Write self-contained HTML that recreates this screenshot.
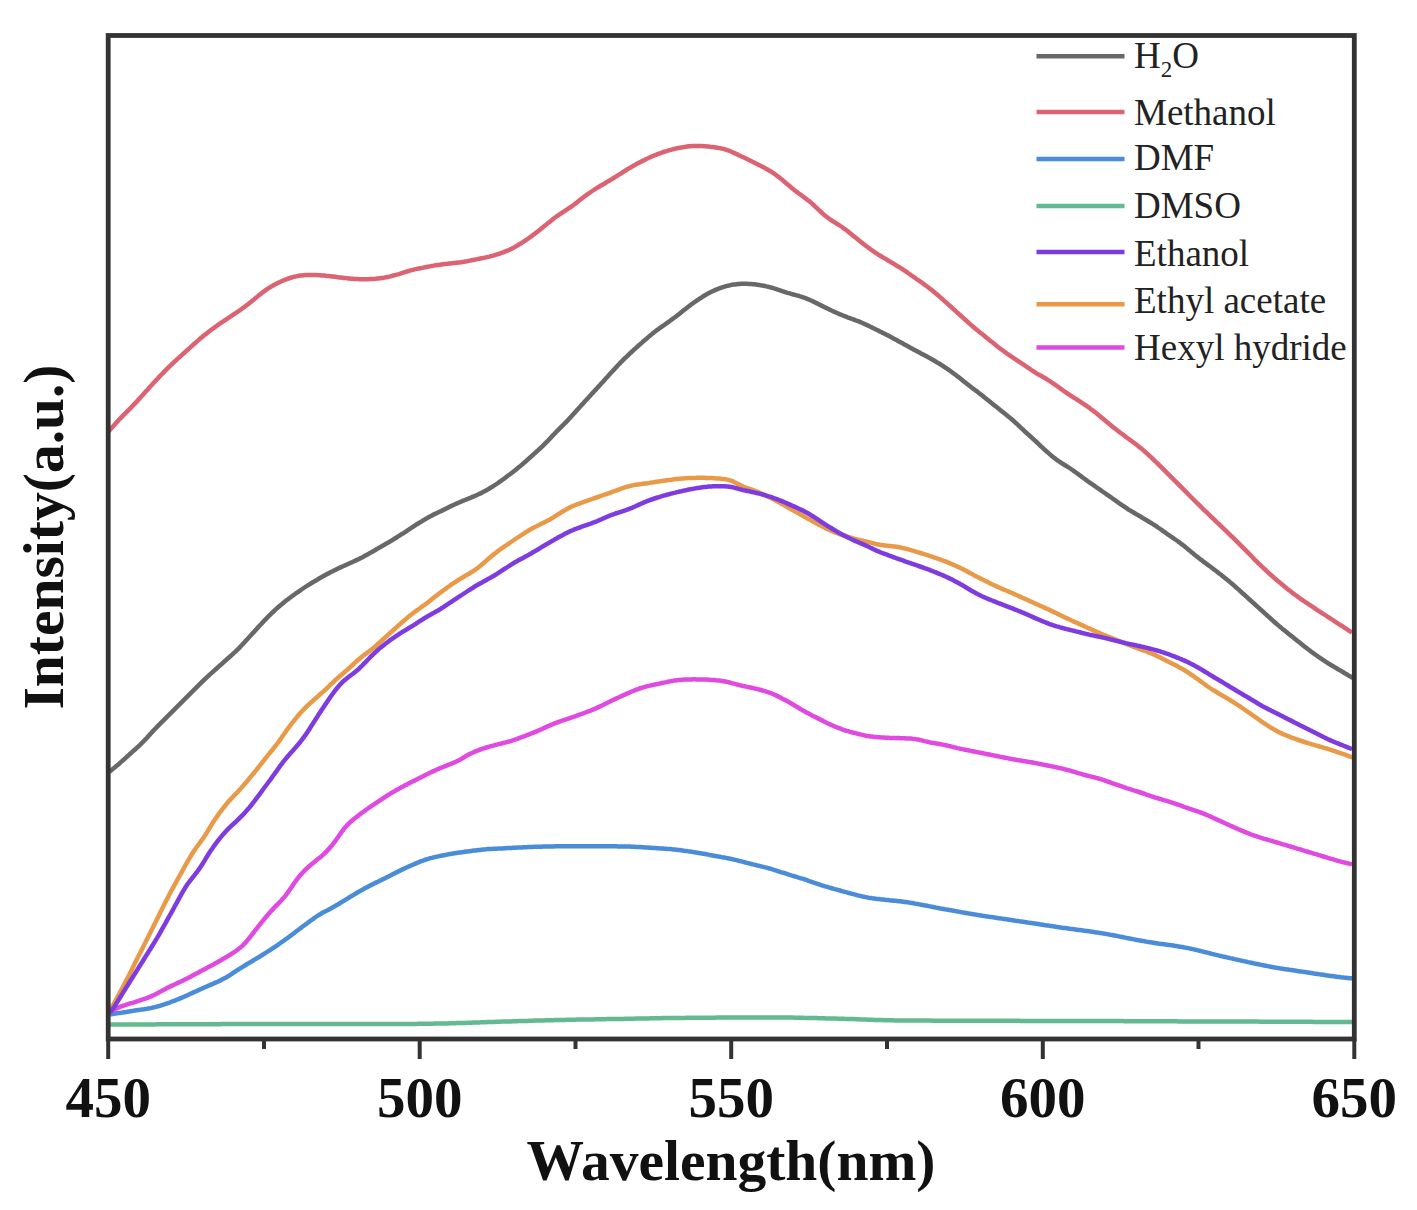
<!DOCTYPE html>
<html><head><meta charset="utf-8"><style>
html,body{margin:0;padding:0;background:#fff;}
body{width:1417px;height:1210px;overflow:hidden;}
svg{display:block;}
</style></head><body>
<svg width="1417" height="1210" viewBox="0 0 1417 1210">
<rect width="1417" height="1210" fill="#fff"/>
<g fill="none" stroke-width="4.5" stroke-linejoin="round" stroke-linecap="butt">
<path d="M109.0,1024.5 110.5,1024.5 112.0,1024.5 113.5,1024.5 115.0,1024.5 116.5,1024.5 118.0,1024.5 119.5,1024.5 121.0,1024.5 122.5,1024.5 124.0,1024.5 125.5,1024.4 127.0,1024.4 128.5,1024.4 130.0,1024.4 131.5,1024.4 133.0,1024.4 134.5,1024.4 136.0,1024.4 137.5,1024.4 139.0,1024.4 140.5,1024.4 142.0,1024.4 143.5,1024.4 145.0,1024.4 146.5,1024.4 148.0,1024.4 149.5,1024.4 151.0,1024.4 152.5,1024.4 154.0,1024.4 155.5,1024.4 157.0,1024.3 158.5,1024.3 160.0,1024.3 161.5,1024.3 163.0,1024.3 164.5,1024.3 166.0,1024.3 167.5,1024.3 169.0,1024.3 170.5,1024.3 172.0,1024.3 173.5,1024.3 175.0,1024.3 176.5,1024.3 178.0,1024.3 179.5,1024.3 181.0,1024.3 182.5,1024.3 184.0,1024.3 185.5,1024.3 187.0,1024.3 188.5,1024.2 190.0,1024.2 191.5,1024.2 193.0,1024.2 194.5,1024.2 196.0,1024.2 197.5,1024.2 199.0,1024.2 200.5,1024.2 202.0,1024.2 203.5,1024.2 205.0,1024.2 206.5,1024.2 208.0,1024.2 209.5,1024.2 211.0,1024.2 212.5,1024.2 214.0,1024.2 215.5,1024.2 217.0,1024.2 218.5,1024.2 220.0,1024.2 221.5,1024.1 223.0,1024.1 224.5,1024.1 226.0,1024.1 227.5,1024.1 229.0,1024.1 230.5,1024.1 232.0,1024.1 233.5,1024.1 235.0,1024.1 236.5,1024.1 238.0,1024.1 239.5,1024.1 241.0,1024.1 242.5,1024.1 244.0,1024.1 245.5,1024.1 247.0,1024.1 248.5,1024.1 250.0,1024.1 251.5,1024.1 253.0,1024.1 254.5,1024.1 256.0,1024.1 257.5,1024.0 259.0,1024.0 260.5,1024.0 262.0,1024.0 263.5,1024.0 265.0,1024.0 266.5,1024.0 268.0,1024.0 269.5,1024.0 271.0,1024.0 272.5,1024.0 274.0,1024.0 275.5,1024.0 277.0,1024.0 278.5,1024.0 280.0,1024.0 281.5,1024.0 283.0,1024.0 284.5,1024.0 286.0,1024.0 287.5,1024.0 289.0,1024.0 290.5,1024.0 292.0,1024.0 293.5,1024.0 295.0,1024.0 296.5,1024.0 298.0,1024.0 299.5,1024.0 301.0,1024.0 302.5,1024.0 304.0,1024.0 305.5,1024.0 307.0,1024.0 308.5,1024.0 310.0,1024.0 311.5,1024.0 313.0,1024.0 314.5,1024.0 316.0,1024.0 317.5,1024.0 319.0,1024.0 320.5,1024.0 322.0,1024.0 323.5,1024.0 325.0,1024.0 326.5,1024.0 328.0,1024.0 329.5,1024.0 331.0,1024.0 332.5,1024.0 334.0,1024.0 335.5,1024.0 337.0,1024.0 338.5,1024.0 340.0,1024.0 341.5,1024.0 343.0,1024.0 344.5,1024.0 346.0,1024.0 347.5,1024.0 349.0,1024.0 350.5,1024.0 352.0,1024.0 353.5,1024.0 355.0,1024.0 356.5,1024.0 358.0,1024.0 359.5,1024.0 361.0,1024.0 362.5,1024.0 364.0,1024.0 365.5,1024.0 367.0,1024.0 368.5,1024.0 370.0,1024.0 371.5,1024.0 373.0,1024.0 374.5,1024.0 376.0,1024.0 377.5,1024.0 379.0,1024.0 380.5,1024.0 382.0,1024.0 383.5,1024.0 385.0,1024.0 386.5,1024.0 388.0,1024.0 389.5,1024.0 391.0,1024.0 392.5,1024.0 394.0,1024.0 395.5,1024.0 397.0,1024.0 398.5,1024.0 400.0,1024.0 401.5,1024.0 403.0,1023.9 404.5,1023.9 406.0,1023.9 407.5,1023.9 409.0,1023.9 410.5,1023.9 412.0,1023.9 413.5,1023.9 415.0,1023.9 416.5,1023.9 418.0,1023.8 419.5,1023.8 421.0,1023.8 422.5,1023.8 424.0,1023.8 425.5,1023.8 427.0,1023.7 428.5,1023.7 430.0,1023.7 431.5,1023.7 433.0,1023.7 434.5,1023.6 436.0,1023.6 437.5,1023.6 439.0,1023.5 440.5,1023.5 442.0,1023.5 443.5,1023.5 445.0,1023.4 446.5,1023.4 448.0,1023.4 449.5,1023.3 451.0,1023.3 452.5,1023.3 454.0,1023.2 455.5,1023.2 457.0,1023.1 458.5,1023.1 460.0,1023.0 461.5,1023.0 463.0,1023.0 464.5,1022.9 466.0,1022.9 467.5,1022.8 469.0,1022.8 470.5,1022.7 472.0,1022.7 473.5,1022.6 475.0,1022.6 476.5,1022.5 478.0,1022.4 479.5,1022.4 481.0,1022.3 482.5,1022.3 484.0,1022.2 485.5,1022.2 487.0,1022.1 488.5,1022.1 490.0,1022.0 491.5,1022.0 493.0,1021.9 494.5,1021.9 496.0,1021.8 497.5,1021.8 499.0,1021.7 500.5,1021.7 502.0,1021.6 503.5,1021.6 505.0,1021.5 506.5,1021.5 508.0,1021.4 509.5,1021.4 511.0,1021.4 512.5,1021.3 514.0,1021.3 515.5,1021.2 517.0,1021.2 518.5,1021.1 520.0,1021.1 521.5,1021.0 523.0,1021.0 524.5,1020.9 526.0,1020.9 527.5,1020.9 529.0,1020.8 530.5,1020.8 532.0,1020.7 533.5,1020.7 535.0,1020.6 536.5,1020.6 538.0,1020.6 539.5,1020.5 541.0,1020.5 542.5,1020.4 544.0,1020.4 545.5,1020.3 547.0,1020.3 548.5,1020.3 550.0,1020.2 551.5,1020.2 553.0,1020.2 554.5,1020.1 556.0,1020.1 557.5,1020.0 559.0,1020.0 560.5,1020.0 562.0,1019.9 563.5,1019.9 565.0,1019.9 566.5,1019.8 568.0,1019.8 569.5,1019.8 571.0,1019.8 572.5,1019.7 574.0,1019.7 575.5,1019.7 577.0,1019.6 578.5,1019.6 580.0,1019.6 581.5,1019.6 583.0,1019.5 584.5,1019.5 586.0,1019.5 587.5,1019.5 589.0,1019.4 590.5,1019.4 592.0,1019.4 593.5,1019.4 595.0,1019.3 596.5,1019.3 598.0,1019.3 599.5,1019.3 601.0,1019.2 602.5,1019.2 604.0,1019.2 605.5,1019.2 607.0,1019.1 608.5,1019.1 610.0,1019.1 611.5,1019.1 613.0,1019.0 614.5,1019.0 616.0,1019.0 617.5,1019.0 619.0,1018.9 620.5,1018.9 622.0,1018.9 623.5,1018.9 625.0,1018.8 626.5,1018.8 628.0,1018.8 629.5,1018.7 631.0,1018.7 632.5,1018.7 634.0,1018.7 635.5,1018.6 637.0,1018.6 638.5,1018.6 640.0,1018.5 641.5,1018.5 643.0,1018.5 644.5,1018.5 646.0,1018.4 647.5,1018.4 649.0,1018.4 650.5,1018.3 652.0,1018.3 653.5,1018.3 655.0,1018.3 656.5,1018.2 658.0,1018.2 659.5,1018.2 661.0,1018.2 662.5,1018.1 664.0,1018.1 665.5,1018.1 667.0,1018.1 668.5,1018.1 670.0,1018.0 671.5,1018.0 673.0,1018.0 674.5,1018.0 676.0,1018.0 677.5,1017.9 679.0,1017.9 680.5,1017.9 682.0,1017.9 683.5,1017.9 685.0,1017.9 686.5,1017.8 688.0,1017.8 689.5,1017.8 691.0,1017.8 692.5,1017.8 694.0,1017.8 695.5,1017.8 697.0,1017.8 698.5,1017.8 700.0,1017.7 701.5,1017.7 703.0,1017.7 704.5,1017.7 706.0,1017.7 707.5,1017.7 709.0,1017.7 710.5,1017.7 712.0,1017.7 713.5,1017.7 715.0,1017.7 716.5,1017.6 718.0,1017.6 719.5,1017.6 721.0,1017.6 722.5,1017.6 724.0,1017.6 725.5,1017.6 727.0,1017.6 728.5,1017.6 730.0,1017.6 731.5,1017.6 733.0,1017.6 734.5,1017.6 736.0,1017.6 737.5,1017.6 739.0,1017.6 740.5,1017.6 742.0,1017.5 743.5,1017.5 745.0,1017.5 746.5,1017.5 748.0,1017.5 749.5,1017.5 751.0,1017.5 752.5,1017.5 754.0,1017.5 755.5,1017.5 757.0,1017.5 758.5,1017.5 760.0,1017.5 761.5,1017.5 763.0,1017.5 764.5,1017.5 766.0,1017.5 767.5,1017.5 769.0,1017.5 770.5,1017.5 772.0,1017.5 773.5,1017.5 775.0,1017.5 776.5,1017.5 778.0,1017.5 779.5,1017.5 781.0,1017.5 782.5,1017.5 784.0,1017.5 785.5,1017.6 787.0,1017.6 788.5,1017.6 790.0,1017.6 791.5,1017.6 793.0,1017.6 794.5,1017.7 796.0,1017.7 797.5,1017.7 799.0,1017.7 800.5,1017.8 802.0,1017.8 803.5,1017.8 805.0,1017.9 806.5,1017.9 808.0,1017.9 809.5,1017.9 811.0,1018.0 812.5,1018.0 814.0,1018.1 815.5,1018.1 817.0,1018.1 818.5,1018.2 820.0,1018.2 821.5,1018.2 823.0,1018.3 824.5,1018.3 826.0,1018.4 827.5,1018.4 829.0,1018.4 830.5,1018.5 832.0,1018.5 833.5,1018.6 835.0,1018.6 836.5,1018.6 838.0,1018.7 839.5,1018.7 841.0,1018.8 842.5,1018.8 844.0,1018.8 845.5,1018.9 847.0,1018.9 848.5,1019.0 850.0,1019.0 851.5,1019.0 853.0,1019.1 854.5,1019.1 856.0,1019.2 857.5,1019.2 859.0,1019.3 860.5,1019.4 862.0,1019.4 863.5,1019.5 865.0,1019.5 866.5,1019.6 868.0,1019.7 869.5,1019.7 871.0,1019.8 872.5,1019.8 874.0,1019.9 875.5,1019.9 877.0,1020.0 878.5,1020.0 880.0,1020.1 881.5,1020.1 883.0,1020.1 884.5,1020.2 886.0,1020.2 887.5,1020.2 889.0,1020.3 890.5,1020.3 892.0,1020.3 893.5,1020.3 895.0,1020.4 896.5,1020.4 898.0,1020.4 899.5,1020.4 901.0,1020.4 902.5,1020.5 904.0,1020.5 905.5,1020.5 907.0,1020.5 908.5,1020.5 910.0,1020.5 911.5,1020.5 913.0,1020.5 914.5,1020.6 916.0,1020.6 917.5,1020.6 919.0,1020.6 920.5,1020.6 922.0,1020.6 923.5,1020.6 925.0,1020.6 926.5,1020.6 928.0,1020.6 929.5,1020.6 931.0,1020.6 932.5,1020.7 934.0,1020.7 935.5,1020.7 937.0,1020.7 938.5,1020.7 940.0,1020.7 941.5,1020.7 943.0,1020.7 944.5,1020.7 946.0,1020.7 947.5,1020.7 949.0,1020.7 950.5,1020.7 952.0,1020.7 953.5,1020.7 955.0,1020.7 956.5,1020.7 958.0,1020.7 959.5,1020.7 961.0,1020.7 962.5,1020.7 964.0,1020.7 965.5,1020.8 967.0,1020.8 968.5,1020.8 970.0,1020.8 971.5,1020.8 973.0,1020.8 974.5,1020.8 976.0,1020.8 977.5,1020.8 979.0,1020.8 980.5,1020.8 982.0,1020.8 983.5,1020.8 985.0,1020.8 986.5,1020.8 988.0,1020.8 989.5,1020.8 991.0,1020.8 992.5,1020.8 994.0,1020.8 995.5,1020.8 997.0,1020.8 998.5,1020.8 1000.0,1020.8 1001.5,1020.8 1003.0,1020.8 1004.5,1020.8 1006.0,1020.8 1007.5,1020.8 1009.0,1020.8 1010.5,1020.8 1012.0,1020.8 1013.5,1020.8 1015.0,1020.8 1016.5,1020.8 1018.0,1020.8 1019.5,1020.8 1021.0,1020.9 1022.5,1020.9 1024.0,1020.9 1025.5,1020.9 1027.0,1020.9 1028.5,1020.9 1030.0,1020.9 1031.5,1020.9 1033.0,1020.9 1034.5,1020.9 1036.0,1020.9 1037.5,1020.9 1039.0,1020.9 1040.5,1020.9 1042.0,1020.9 1043.5,1020.9 1045.0,1020.9 1046.5,1020.9 1048.0,1020.9 1049.5,1020.9 1051.0,1020.9 1052.5,1020.9 1054.0,1020.9 1055.5,1020.9 1057.0,1020.9 1058.5,1020.9 1060.0,1020.9 1061.5,1020.9 1063.0,1020.9 1064.5,1021.0 1066.0,1021.0 1067.5,1021.0 1069.0,1021.0 1070.5,1021.0 1072.0,1021.0 1073.5,1021.0 1075.0,1021.0 1076.5,1021.0 1078.0,1021.0 1079.5,1021.0 1081.0,1021.0 1082.5,1021.0 1084.0,1021.0 1085.5,1021.0 1087.0,1021.0 1088.5,1021.0 1090.0,1021.0 1091.5,1021.0 1093.0,1021.0 1094.5,1021.0 1096.0,1021.1 1097.5,1021.1 1099.0,1021.1 1100.5,1021.1 1102.0,1021.1 1103.5,1021.1 1105.0,1021.1 1106.5,1021.1 1108.0,1021.1 1109.5,1021.1 1111.0,1021.1 1112.5,1021.1 1114.0,1021.1 1115.5,1021.1 1117.0,1021.1 1118.5,1021.1 1120.0,1021.1 1121.5,1021.1 1123.0,1021.1 1124.5,1021.2 1126.0,1021.2 1127.5,1021.2 1129.0,1021.2 1130.5,1021.2 1132.0,1021.2 1133.5,1021.2 1135.0,1021.2 1136.5,1021.2 1138.0,1021.2 1139.5,1021.2 1141.0,1021.2 1142.5,1021.2 1144.0,1021.2 1145.5,1021.2 1147.0,1021.2 1148.5,1021.2 1150.0,1021.2 1151.5,1021.3 1153.0,1021.3 1154.5,1021.3 1156.0,1021.3 1157.5,1021.3 1159.0,1021.3 1160.5,1021.3 1162.0,1021.3 1163.5,1021.3 1165.0,1021.3 1166.5,1021.3 1168.0,1021.3 1169.5,1021.3 1171.0,1021.3 1172.5,1021.3 1174.0,1021.3 1175.5,1021.3 1177.0,1021.3 1178.5,1021.4 1180.0,1021.4 1181.5,1021.4 1183.0,1021.4 1184.5,1021.4 1186.0,1021.4 1187.5,1021.4 1189.0,1021.4 1190.5,1021.4 1192.0,1021.4 1193.5,1021.4 1195.0,1021.4 1196.5,1021.4 1198.0,1021.4 1199.5,1021.4 1201.0,1021.4 1202.5,1021.4 1204.0,1021.4 1205.5,1021.5 1207.0,1021.5 1208.5,1021.5 1210.0,1021.5 1211.5,1021.5 1213.0,1021.5 1214.5,1021.5 1216.0,1021.5 1217.5,1021.5 1219.0,1021.5 1220.5,1021.5 1222.0,1021.5 1223.5,1021.5 1225.0,1021.5 1226.5,1021.5 1228.0,1021.5 1229.5,1021.5 1231.0,1021.5 1232.5,1021.6 1234.0,1021.6 1235.5,1021.6 1237.0,1021.6 1238.5,1021.6 1240.0,1021.6 1241.5,1021.6 1243.0,1021.6 1244.5,1021.6 1246.0,1021.6 1247.5,1021.6 1249.0,1021.6 1250.5,1021.6 1252.0,1021.6 1253.5,1021.6 1255.0,1021.6 1256.5,1021.6 1258.0,1021.6 1259.5,1021.7 1261.0,1021.7 1262.5,1021.7 1264.0,1021.7 1265.5,1021.7 1267.0,1021.7 1268.5,1021.7 1270.0,1021.7 1271.5,1021.7 1273.0,1021.7 1274.5,1021.7 1276.0,1021.7 1277.5,1021.7 1279.0,1021.7 1280.5,1021.7 1282.0,1021.7 1283.5,1021.7 1285.0,1021.7 1286.5,1021.8 1288.0,1021.8 1289.5,1021.8 1291.0,1021.8 1292.5,1021.8 1294.0,1021.8 1295.5,1021.8 1297.0,1021.8 1298.5,1021.8 1300.0,1021.8 1301.5,1021.8 1303.0,1021.8 1304.5,1021.8 1306.0,1021.8 1307.5,1021.8 1309.0,1021.8 1310.5,1021.8 1312.0,1021.8 1313.5,1021.9 1315.0,1021.9 1316.5,1021.9 1318.0,1021.9 1319.5,1021.9 1321.0,1021.9 1322.5,1021.9 1324.0,1021.9 1325.5,1021.9 1327.0,1021.9 1328.5,1021.9 1330.0,1021.9 1331.5,1021.9 1333.0,1021.9 1334.5,1021.9 1336.0,1021.9 1337.5,1021.9 1339.0,1021.9 1340.5,1022.0 1342.0,1022.0 1343.5,1022.0 1345.0,1022.0 1346.5,1022.0 1348.0,1022.0 1349.5,1022.0 1351.0,1022.0 1352.5,1022.0" stroke="#64b990"/>
<path d="M109.5,1014.5 111.0,1014.3 112.5,1014.0 114.0,1013.8 115.5,1013.6 117.0,1013.3 118.5,1013.1 120.0,1012.9 121.5,1012.7 123.0,1012.4 124.5,1012.2 126.0,1012.0 127.5,1011.7 129.0,1011.5 130.5,1011.2 132.0,1011.0 133.5,1010.8 135.0,1010.5 136.5,1010.3 138.0,1010.1 139.5,1009.9 141.0,1009.6 142.5,1009.4 144.0,1009.2 145.5,1008.9 147.0,1008.7 148.5,1008.4 150.0,1008.2 151.5,1007.9 153.0,1007.5 154.5,1007.2 156.0,1006.8 157.5,1006.4 159.0,1006.0 160.5,1005.6 162.0,1005.1 163.5,1004.6 165.0,1004.2 166.5,1003.6 168.0,1003.1 169.5,1002.6 171.0,1002.0 172.5,1001.4 174.0,1000.9 175.5,1000.3 177.0,999.7 178.5,999.1 180.0,998.4 181.5,997.8 183.0,997.2 184.5,996.5 186.0,995.9 187.5,995.2 189.0,994.5 190.5,993.8 192.0,993.1 193.5,992.4 195.0,991.7 196.5,991.1 198.0,990.4 199.5,989.7 201.0,989.0 202.5,988.3 204.0,987.7 205.5,987.0 207.0,986.4 208.5,985.7 210.0,985.1 211.5,984.4 213.0,983.8 214.5,983.1 216.0,982.4 217.5,981.8 219.0,981.1 220.5,980.4 222.0,979.6 223.5,978.8 225.0,978.0 226.5,977.2 228.0,976.3 229.5,975.4 231.0,974.4 232.5,973.4 234.0,972.4 235.5,971.4 237.0,970.4 238.5,969.5 240.0,968.5 241.5,967.6 243.0,966.6 244.5,965.7 246.0,964.8 247.5,963.9 249.0,963.0 250.5,962.1 252.0,961.2 253.5,960.3 255.0,959.4 256.5,958.5 258.0,957.6 259.5,956.7 261.0,955.8 262.5,954.8 264.0,953.9 265.5,953.0 267.0,952.0 268.5,951.0 270.0,950.1 271.5,949.1 273.0,948.1 274.5,947.1 276.0,946.1 277.5,945.1 279.0,944.0 280.5,943.0 282.0,941.9 283.5,940.9 285.0,939.8 286.5,938.7 288.0,937.6 289.5,936.5 291.0,935.4 292.5,934.2 294.0,933.1 295.5,932.0 297.0,930.8 298.5,929.7 300.0,928.6 301.5,927.4 303.0,926.3 304.5,925.2 306.0,924.1 307.5,923.0 309.0,921.9 310.5,920.8 312.0,919.7 313.5,918.6 315.0,917.5 316.5,916.5 318.0,915.5 319.5,914.6 321.0,913.7 322.5,912.8 324.0,912.0 325.5,911.2 327.0,910.5 328.5,909.7 330.0,908.9 331.5,908.1 333.0,907.3 334.5,906.4 336.0,905.5 337.5,904.6 339.0,903.7 340.5,902.8 342.0,901.9 343.5,901.0 345.0,900.1 346.5,899.1 348.0,898.2 349.5,897.3 351.0,896.4 352.5,895.5 354.0,894.6 355.5,893.7 357.0,892.8 358.5,891.9 360.0,891.1 361.5,890.2 363.0,889.4 364.5,888.5 366.0,887.7 367.5,886.9 369.0,886.1 370.5,885.4 372.0,884.6 373.5,883.9 375.0,883.1 376.5,882.4 378.0,881.7 379.5,880.9 381.0,880.2 382.5,879.4 384.0,878.7 385.5,877.9 387.0,877.2 388.5,876.4 390.0,875.7 391.5,874.9 393.0,874.1 394.5,873.4 396.0,872.6 397.5,871.9 399.0,871.1 400.5,870.4 402.0,869.6 403.5,868.9 405.0,868.2 406.5,867.5 408.0,866.8 409.5,866.2 411.0,865.5 412.5,864.9 414.0,864.2 415.5,863.6 417.0,862.9 418.5,862.3 420.0,861.7 421.5,861.1 423.0,860.6 424.5,860.0 426.0,859.5 427.5,859.1 429.0,858.6 430.5,858.2 432.0,857.8 433.5,857.4 435.0,857.1 436.5,856.8 438.0,856.4 439.5,856.1 441.0,855.8 442.5,855.5 444.0,855.2 445.5,854.9 447.0,854.6 448.5,854.3 450.0,854.0 451.5,853.8 453.0,853.5 454.5,853.3 456.0,853.1 457.5,852.8 459.0,852.6 460.5,852.4 462.0,852.2 463.5,852.0 465.0,851.8 466.5,851.6 468.0,851.4 469.5,851.2 471.0,851.0 472.5,850.8 474.0,850.6 475.5,850.4 477.0,850.2 478.5,850.0 480.0,849.9 481.5,849.7 483.0,849.5 484.5,849.4 486.0,849.3 487.5,849.1 489.0,849.0 490.5,849.0 492.0,848.9 493.5,848.8 495.0,848.7 496.5,848.7 498.0,848.6 499.5,848.5 501.0,848.4 502.5,848.4 504.0,848.3 505.5,848.2 507.0,848.1 508.5,848.1 510.0,848.0 511.5,847.9 513.0,847.8 514.5,847.8 516.0,847.7 517.5,847.6 519.0,847.5 520.5,847.5 522.0,847.4 523.5,847.3 525.0,847.2 526.5,847.2 528.0,847.1 529.5,847.0 531.0,846.9 532.5,846.9 534.0,846.8 535.5,846.8 537.0,846.8 538.5,846.7 540.0,846.7 541.5,846.7 543.0,846.6 544.5,846.6 546.0,846.6 547.5,846.5 549.0,846.5 550.5,846.5 552.0,846.4 553.5,846.4 555.0,846.3 556.5,846.3 558.0,846.3 559.5,846.2 561.0,846.2 562.5,846.2 564.0,846.2 565.5,846.2 567.0,846.2 568.5,846.2 570.0,846.3 571.5,846.3 573.0,846.3 574.5,846.3 576.0,846.3 577.5,846.3 579.0,846.3 580.5,846.3 582.0,846.3 583.5,846.3 585.0,846.3 586.5,846.3 588.0,846.3 589.5,846.3 591.0,846.3 592.5,846.3 594.0,846.3 595.5,846.3 597.0,846.3 598.5,846.3 600.0,846.3 601.5,846.3 603.0,846.3 604.5,846.3 606.0,846.3 607.5,846.3 609.0,846.3 610.5,846.3 612.0,846.3 613.5,846.3 615.0,846.3 616.5,846.3 618.0,846.4 619.5,846.4 621.0,846.4 622.5,846.4 624.0,846.5 625.5,846.5 627.0,846.5 628.5,846.6 630.0,846.6 631.5,846.7 633.0,846.8 634.5,846.8 636.0,846.9 637.5,847.0 639.0,847.1 640.5,847.1 642.0,847.2 643.5,847.3 645.0,847.4 646.5,847.5 648.0,847.6 649.5,847.7 651.0,847.8 652.5,847.9 654.0,848.0 655.5,848.1 657.0,848.2 658.5,848.3 660.0,848.4 661.5,848.5 663.0,848.6 664.5,848.7 666.0,848.8 667.5,848.9 669.0,849.0 670.5,849.1 672.0,849.3 673.5,849.4 675.0,849.5 676.5,849.7 678.0,849.9 679.5,850.0 681.0,850.2 682.5,850.4 684.0,850.7 685.5,850.9 687.0,851.1 688.5,851.4 690.0,851.6 691.5,851.8 693.0,852.1 694.5,852.3 696.0,852.5 697.5,852.7 699.0,853.0 700.5,853.2 702.0,853.5 703.5,853.7 705.0,854.0 706.5,854.3 708.0,854.6 709.5,854.9 711.0,855.2 712.5,855.5 714.0,855.8 715.5,856.0 717.0,856.3 718.5,856.6 720.0,856.8 721.5,857.1 723.0,857.4 724.5,857.6 726.0,857.9 727.5,858.2 729.0,858.5 730.5,858.8 732.0,859.1 733.5,859.5 735.0,859.8 736.5,860.2 738.0,860.6 739.5,861.0 741.0,861.3 742.5,861.7 744.0,862.1 745.5,862.5 747.0,862.9 748.5,863.2 750.0,863.6 751.5,864.0 753.0,864.4 754.5,864.7 756.0,865.1 757.5,865.5 759.0,865.8 760.5,866.2 762.0,866.6 763.5,866.9 765.0,867.3 766.5,867.7 768.0,868.1 769.5,868.5 771.0,868.9 772.5,869.4 774.0,869.8 775.5,870.3 777.0,870.8 778.5,871.3 780.0,871.8 781.5,872.3 783.0,872.7 784.5,873.2 786.0,873.7 787.5,874.2 789.0,874.7 790.5,875.1 792.0,875.6 793.5,876.0 795.0,876.5 796.5,876.9 798.0,877.4 799.5,877.8 801.0,878.3 802.5,878.7 804.0,879.2 805.5,879.7 807.0,880.2 808.5,880.8 810.0,881.3 811.5,881.8 813.0,882.3 814.5,882.9 816.0,883.4 817.5,883.9 819.0,884.4 820.5,884.9 822.0,885.4 823.5,885.8 825.0,886.3 826.5,886.7 828.0,887.2 829.5,887.6 831.0,888.0 832.5,888.5 834.0,888.9 835.5,889.3 837.0,889.7 838.5,890.1 840.0,890.5 841.5,891.0 843.0,891.4 844.5,891.8 846.0,892.2 847.5,892.6 849.0,893.0 850.5,893.4 852.0,893.8 853.5,894.2 855.0,894.6 856.5,895.0 858.0,895.4 859.5,895.7 861.0,896.1 862.5,896.5 864.0,896.8 865.5,897.1 867.0,897.4 868.5,897.7 870.0,897.9 871.5,898.1 873.0,898.4 874.5,898.6 876.0,898.8 877.5,898.9 879.0,899.1 880.5,899.3 882.0,899.5 883.5,899.6 885.0,899.8 886.5,899.9 888.0,900.1 889.5,900.3 891.0,900.4 892.5,900.5 894.0,900.7 895.5,900.8 897.0,901.0 898.5,901.2 900.0,901.3 901.5,901.5 903.0,901.7 904.5,901.9 906.0,902.1 907.5,902.3 909.0,902.6 910.5,902.8 912.0,903.1 913.5,903.3 915.0,903.6 916.5,903.9 918.0,904.1 919.5,904.4 921.0,904.7 922.5,905.0 924.0,905.2 925.5,905.5 927.0,905.8 928.5,906.1 930.0,906.4 931.5,906.7 933.0,907.0 934.5,907.3 936.0,907.6 937.5,907.9 939.0,908.2 940.5,908.5 942.0,908.7 943.5,909.0 945.0,909.3 946.5,909.5 948.0,909.8 949.5,910.1 951.0,910.3 952.5,910.6 954.0,910.8 955.5,911.1 957.0,911.4 958.5,911.6 960.0,911.9 961.5,912.2 963.0,912.4 964.5,912.7 966.0,913.0 967.5,913.3 969.0,913.5 970.5,913.8 972.0,914.1 973.5,914.3 975.0,914.6 976.5,914.8 978.0,915.1 979.5,915.3 981.0,915.5 982.5,915.8 984.0,916.0 985.5,916.2 987.0,916.4 988.5,916.6 990.0,916.9 991.5,917.1 993.0,917.3 994.5,917.5 996.0,917.7 997.5,918.0 999.0,918.2 1000.5,918.4 1002.0,918.6 1003.5,918.9 1005.0,919.1 1006.5,919.3 1008.0,919.6 1009.5,919.8 1011.0,920.0 1012.5,920.2 1014.0,920.5 1015.5,920.7 1017.0,920.9 1018.5,921.1 1020.0,921.4 1021.5,921.6 1023.0,921.8 1024.5,922.0 1026.0,922.2 1027.5,922.5 1029.0,922.7 1030.5,922.9 1032.0,923.1 1033.5,923.4 1035.0,923.6 1036.5,923.8 1038.0,924.0 1039.5,924.3 1041.0,924.5 1042.5,924.7 1044.0,925.0 1045.5,925.2 1047.0,925.4 1048.5,925.6 1050.0,925.9 1051.5,926.1 1053.0,926.3 1054.5,926.5 1056.0,926.8 1057.5,927.0 1059.0,927.2 1060.5,927.4 1062.0,927.7 1063.5,927.9 1065.0,928.1 1066.5,928.3 1068.0,928.5 1069.5,928.7 1071.0,928.9 1072.5,929.1 1074.0,929.3 1075.5,929.5 1077.0,929.7 1078.5,929.9 1080.0,930.1 1081.5,930.3 1083.0,930.5 1084.5,930.7 1086.0,930.9 1087.5,931.1 1089.0,931.3 1090.5,931.5 1092.0,931.7 1093.5,931.9 1095.0,932.2 1096.5,932.4 1098.0,932.6 1099.5,932.9 1101.0,933.1 1102.5,933.4 1104.0,933.6 1105.5,933.9 1107.0,934.1 1108.5,934.4 1110.0,934.7 1111.5,934.9 1113.0,935.2 1114.5,935.5 1116.0,935.8 1117.5,936.1 1119.0,936.4 1120.5,936.7 1122.0,937.0 1123.5,937.3 1125.0,937.6 1126.5,937.9 1128.0,938.2 1129.5,938.5 1131.0,938.8 1132.5,939.1 1134.0,939.4 1135.5,939.7 1137.0,940.0 1138.5,940.2 1140.0,940.5 1141.5,940.8 1143.0,941.1 1144.5,941.3 1146.0,941.6 1147.5,941.9 1149.0,942.1 1150.5,942.3 1152.0,942.6 1153.5,942.8 1155.0,943.0 1156.5,943.2 1158.0,943.5 1159.5,943.7 1161.0,943.9 1162.5,944.1 1164.0,944.3 1165.5,944.5 1167.0,944.7 1168.5,944.9 1170.0,945.1 1171.5,945.3 1173.0,945.5 1174.5,945.8 1176.0,946.0 1177.5,946.3 1179.0,946.5 1180.5,946.8 1182.0,947.0 1183.5,947.3 1185.0,947.6 1186.5,947.9 1188.0,948.1 1189.5,948.4 1191.0,948.8 1192.5,949.1 1194.0,949.4 1195.5,949.7 1197.0,950.1 1198.5,950.5 1200.0,950.8 1201.5,951.2 1203.0,951.6 1204.5,952.0 1206.0,952.3 1207.5,952.7 1209.0,953.1 1210.5,953.5 1212.0,953.9 1213.5,954.2 1215.0,954.6 1216.5,954.9 1218.0,955.3 1219.5,955.7 1221.0,956.0 1222.5,956.4 1224.0,956.7 1225.5,957.0 1227.0,957.4 1228.5,957.7 1230.0,958.1 1231.5,958.4 1233.0,958.7 1234.5,959.1 1236.0,959.4 1237.5,959.8 1239.0,960.1 1240.5,960.4 1242.0,960.8 1243.5,961.1 1245.0,961.4 1246.5,961.7 1248.0,962.1 1249.5,962.4 1251.0,962.7 1252.5,963.0 1254.0,963.4 1255.5,963.7 1257.0,964.0 1258.5,964.3 1260.0,964.6 1261.5,964.9 1263.0,965.2 1264.5,965.5 1266.0,965.8 1267.5,966.1 1269.0,966.4 1270.5,966.7 1272.0,967.0 1273.5,967.3 1275.0,967.5 1276.5,967.8 1278.0,968.0 1279.5,968.3 1281.0,968.5 1282.5,968.7 1284.0,969.0 1285.5,969.2 1287.0,969.4 1288.5,969.6 1290.0,969.9 1291.5,970.1 1293.0,970.3 1294.5,970.5 1296.0,970.7 1297.5,971.0 1299.0,971.2 1300.5,971.4 1302.0,971.6 1303.5,971.9 1305.0,972.1 1306.5,972.3 1308.0,972.6 1309.5,972.8 1311.0,973.0 1312.5,973.2 1314.0,973.5 1315.5,973.7 1317.0,973.9 1318.5,974.1 1320.0,974.4 1321.5,974.6 1323.0,974.8 1324.5,975.0 1326.0,975.3 1327.5,975.5 1329.0,975.7 1330.5,975.9 1332.0,976.1 1333.5,976.3 1335.0,976.5 1336.5,976.7 1338.0,976.9 1339.5,977.1 1341.0,977.3 1342.5,977.4 1344.0,977.6 1345.5,977.7 1347.0,977.9 1348.5,978.0 1350.0,978.2 1351.5,978.3 1353.0,978.5" stroke="#4a8cd8"/>
<path d="M110.0,1012.0 111.5,1011.1 113.0,1010.2 114.5,1009.4 116.0,1008.6 117.5,1007.9 119.0,1007.3 120.5,1006.7 122.0,1006.2 123.5,1005.6 125.0,1005.2 126.5,1004.7 128.0,1004.2 129.5,1003.7 131.0,1003.2 132.5,1002.8 134.0,1002.3 135.5,1001.8 137.0,1001.3 138.5,1000.9 140.0,1000.4 141.5,999.9 143.0,999.4 144.5,998.9 146.0,998.4 147.5,997.8 149.0,997.2 150.5,996.6 152.0,995.9 153.5,995.2 155.0,994.5 156.5,993.7 158.0,992.9 159.5,992.1 161.0,991.3 162.5,990.5 164.0,989.7 165.5,988.9 167.0,988.1 168.5,987.3 170.0,986.6 171.5,985.9 173.0,985.2 174.5,984.5 176.0,983.8 177.5,983.1 179.0,982.4 180.5,981.7 182.0,981.0 183.5,980.2 185.0,979.5 186.5,978.7 188.0,978.0 189.5,977.2 191.0,976.4 192.5,975.6 194.0,974.8 195.5,974.0 197.0,973.2 198.5,972.4 200.0,971.6 201.5,970.8 203.0,970.0 204.5,969.2 206.0,968.4 207.5,967.6 209.0,966.8 210.5,966.0 212.0,965.2 213.5,964.4 215.0,963.6 216.5,962.8 218.0,961.9 219.5,961.0 221.0,960.2 222.5,959.3 224.0,958.4 225.5,957.5 227.0,956.6 228.5,955.7 230.0,954.8 231.5,953.8 233.0,952.9 234.5,951.9 236.0,950.9 237.5,949.8 239.0,948.6 240.5,947.4 242.0,946.1 243.5,944.6 245.0,943.1 246.5,941.4 248.0,939.6 249.5,937.8 251.0,935.8 252.5,933.9 254.0,932.0 255.5,930.0 257.0,928.1 258.5,926.2 260.0,924.3 261.5,922.4 263.0,920.6 264.5,918.8 266.0,917.0 267.5,915.2 269.0,913.4 270.5,911.7 272.0,910.1 273.5,908.5 275.0,906.9 276.5,905.4 278.0,903.9 279.5,902.4 281.0,900.8 282.5,899.1 284.0,897.4 285.5,895.6 287.0,893.6 288.5,891.5 290.0,889.4 291.5,887.2 293.0,885.0 294.5,882.8 296.0,880.7 297.5,878.7 299.0,876.8 300.5,875.0 302.0,873.3 303.5,871.7 305.0,870.1 306.5,868.7 308.0,867.3 309.5,866.0 311.0,864.7 312.5,863.4 314.0,862.2 315.5,861.0 317.0,859.8 318.5,858.6 320.0,857.4 321.5,856.2 323.0,854.8 324.5,853.4 326.0,852.0 327.5,850.4 329.0,848.8 330.5,847.0 332.0,845.2 333.5,843.4 335.0,841.4 336.5,839.3 338.0,837.2 339.5,835.0 341.0,832.9 342.5,830.8 344.0,828.8 345.5,827.0 347.0,825.3 348.5,823.8 350.0,822.4 351.5,821.0 353.0,819.8 354.5,818.5 356.0,817.4 357.5,816.2 359.0,815.0 360.5,813.9 362.0,812.8 363.5,811.7 365.0,810.6 366.5,809.5 368.0,808.5 369.5,807.4 371.0,806.4 372.5,805.3 374.0,804.3 375.5,803.3 377.0,802.3 378.5,801.3 380.0,800.3 381.5,799.3 383.0,798.3 384.5,797.3 386.0,796.4 387.5,795.4 389.0,794.5 390.5,793.5 392.0,792.6 393.5,791.7 395.0,790.9 396.5,790.0 398.0,789.2 399.5,788.4 401.0,787.5 402.5,786.7 404.0,785.9 405.5,785.1 407.0,784.4 408.5,783.6 410.0,782.8 411.5,782.1 413.0,781.3 414.5,780.6 416.0,779.8 417.5,779.1 419.0,778.3 420.5,777.6 422.0,776.8 423.5,776.1 425.0,775.3 426.5,774.5 428.0,773.8 429.5,773.0 431.0,772.3 432.5,771.6 434.0,770.9 435.5,770.2 437.0,769.5 438.5,768.9 440.0,768.2 441.5,767.6 443.0,767.0 444.5,766.4 446.0,765.8 447.5,765.2 449.0,764.6 450.5,764.0 452.0,763.4 453.5,762.8 455.0,762.2 456.5,761.5 458.0,760.7 459.5,760.0 461.0,759.1 462.5,758.2 464.0,757.3 465.5,756.3 467.0,755.5 468.5,754.6 470.0,753.9 471.5,753.2 473.0,752.5 474.5,751.8 476.0,751.2 477.5,750.6 479.0,750.0 480.5,749.5 482.0,748.9 483.5,748.4 485.0,748.0 486.5,747.5 488.0,747.0 489.5,746.6 491.0,746.2 492.5,745.8 494.0,745.4 495.5,745.0 497.0,744.6 498.5,744.2 500.0,743.8 501.5,743.5 503.0,743.1 504.5,742.7 506.0,742.3 507.5,741.9 509.0,741.5 510.5,741.1 512.0,740.6 513.5,740.1 515.0,739.6 516.5,739.1 518.0,738.5 519.5,738.0 521.0,737.4 522.5,736.9 524.0,736.3 525.5,735.8 527.0,735.2 528.5,734.6 530.0,734.0 531.5,733.4 533.0,732.8 534.5,732.2 536.0,731.6 537.5,730.9 539.0,730.3 540.5,729.6 542.0,729.0 543.5,728.3 545.0,727.6 546.5,726.9 548.0,726.2 549.5,725.6 551.0,724.9 552.5,724.3 554.0,723.7 555.5,723.1 557.0,722.5 558.5,722.0 560.0,721.4 561.5,720.9 563.0,720.4 564.5,719.9 566.0,719.4 567.5,718.9 569.0,718.4 570.5,717.8 572.0,717.3 573.5,716.8 575.0,716.3 576.5,715.8 578.0,715.2 579.5,714.7 581.0,714.2 582.5,713.6 584.0,713.1 585.5,712.5 587.0,711.9 588.5,711.3 590.0,710.8 591.5,710.2 593.0,709.6 594.5,708.9 596.0,708.3 597.5,707.6 599.0,706.9 600.5,706.2 602.0,705.5 603.5,704.8 605.0,704.0 606.5,703.3 608.0,702.5 609.5,701.8 611.0,701.0 612.5,700.3 614.0,699.6 615.5,698.9 617.0,698.1 618.5,697.5 620.0,696.8 621.5,696.1 623.0,695.4 624.5,694.7 626.0,694.1 627.5,693.4 629.0,692.8 630.5,692.1 632.0,691.5 633.5,690.9 635.0,690.2 636.5,689.6 638.0,689.1 639.5,688.5 641.0,688.0 642.5,687.6 644.0,687.1 645.5,686.7 647.0,686.3 648.5,685.9 650.0,685.6 651.5,685.2 653.0,684.9 654.5,684.6 656.0,684.3 657.5,684.0 659.0,683.7 660.5,683.3 662.0,683.0 663.5,682.7 665.0,682.4 666.5,682.1 668.0,681.7 669.5,681.4 671.0,681.1 672.5,680.9 674.0,680.6 675.5,680.4 677.0,680.2 678.5,680.0 680.0,679.9 681.5,679.8 683.0,679.7 684.5,679.6 686.0,679.5 687.5,679.5 689.0,679.4 690.5,679.4 692.0,679.4 693.5,679.3 695.0,679.3 696.5,679.4 698.0,679.4 699.5,679.4 701.0,679.4 702.5,679.5 704.0,679.5 705.5,679.6 707.0,679.6 708.5,679.7 710.0,679.8 711.5,679.9 713.0,680.0 714.5,680.1 716.0,680.3 717.5,680.4 719.0,680.6 720.5,680.8 722.0,681.0 723.5,681.2 725.0,681.5 726.5,681.8 728.0,682.1 729.5,682.5 731.0,682.9 732.5,683.3 734.0,683.7 735.5,684.1 737.0,684.5 738.5,684.9 740.0,685.3 741.5,685.6 743.0,686.0 744.5,686.3 746.0,686.6 747.5,686.9 749.0,687.2 750.5,687.5 752.0,687.8 753.5,688.2 755.0,688.5 756.5,688.9 758.0,689.3 759.5,689.6 761.0,690.0 762.5,690.5 764.0,690.9 765.5,691.3 767.0,691.8 768.5,692.3 770.0,692.8 771.5,693.4 773.0,694.0 774.5,694.7 776.0,695.4 777.5,696.1 779.0,696.9 780.5,697.6 782.0,698.4 783.5,699.2 785.0,700.0 786.5,700.8 788.0,701.6 789.5,702.4 791.0,703.3 792.5,704.2 794.0,705.1 795.5,706.0 797.0,706.9 798.5,707.8 800.0,708.7 801.5,709.6 803.0,710.5 804.5,711.3 806.0,712.2 807.5,713.0 809.0,713.8 810.5,714.6 812.0,715.4 813.5,716.2 815.0,716.9 816.5,717.6 818.0,718.4 819.5,719.1 821.0,719.9 822.5,720.6 824.0,721.4 825.5,722.2 827.0,723.0 828.5,723.7 830.0,724.4 831.5,725.1 833.0,725.7 834.5,726.4 836.0,727.0 837.5,727.6 839.0,728.1 840.5,728.7 842.0,729.3 843.5,729.8 845.0,730.3 846.5,730.8 848.0,731.2 849.5,731.7 851.0,732.1 852.5,732.5 854.0,732.8 855.5,733.2 857.0,733.6 858.5,734.0 860.0,734.3 861.5,734.7 863.0,735.0 864.5,735.4 866.0,735.7 867.5,736.0 869.0,736.2 870.5,736.4 872.0,736.6 873.5,736.8 875.0,736.9 876.5,737.1 878.0,737.2 879.5,737.3 881.0,737.4 882.5,737.5 884.0,737.6 885.5,737.7 887.0,737.7 888.5,737.8 890.0,737.9 891.5,737.9 893.0,738.0 894.5,738.0 896.0,738.1 897.5,738.1 899.0,738.1 900.5,738.2 902.0,738.2 903.5,738.3 905.0,738.3 906.5,738.4 908.0,738.4 909.5,738.5 911.0,738.6 912.5,738.8 914.0,738.9 915.5,739.1 917.0,739.4 918.5,739.6 920.0,740.0 921.5,740.3 923.0,740.7 924.5,741.1 926.0,741.4 927.5,741.8 929.0,742.1 930.5,742.5 932.0,742.8 933.5,743.0 935.0,743.3 936.5,743.6 938.0,743.8 939.5,744.0 941.0,744.3 942.5,744.6 944.0,744.9 945.5,745.2 947.0,745.5 948.5,745.9 950.0,746.2 951.5,746.6 953.0,747.0 954.5,747.4 956.0,747.7 957.5,748.1 959.0,748.4 960.5,748.8 962.0,749.1 963.5,749.4 965.0,749.7 966.5,750.0 968.0,750.3 969.5,750.6 971.0,750.9 972.5,751.2 974.0,751.5 975.5,751.8 977.0,752.1 978.5,752.4 980.0,752.7 981.5,753.0 983.0,753.3 984.5,753.6 986.0,753.9 987.5,754.2 989.0,754.5 990.5,754.8 992.0,755.1 993.5,755.4 995.0,755.7 996.5,756.0 998.0,756.3 999.5,756.6 1001.0,756.9 1002.5,757.2 1004.0,757.5 1005.5,757.8 1007.0,758.1 1008.5,758.4 1010.0,758.7 1011.5,759.0 1013.0,759.3 1014.5,759.5 1016.0,759.8 1017.5,760.0 1019.0,760.3 1020.5,760.5 1022.0,760.7 1023.5,761.0 1025.0,761.2 1026.5,761.5 1028.0,761.7 1029.5,762.0 1031.0,762.2 1032.5,762.5 1034.0,762.8 1035.5,763.1 1037.0,763.4 1038.5,763.7 1040.0,764.0 1041.5,764.3 1043.0,764.6 1044.5,764.9 1046.0,765.2 1047.5,765.5 1049.0,765.8 1050.5,766.1 1052.0,766.4 1053.5,766.7 1055.0,767.0 1056.5,767.3 1058.0,767.7 1059.5,768.0 1061.0,768.3 1062.5,768.7 1064.0,769.1 1065.5,769.5 1067.0,769.8 1068.5,770.2 1070.0,770.6 1071.5,771.1 1073.0,771.5 1074.5,771.9 1076.0,772.4 1077.5,772.8 1079.0,773.3 1080.5,773.7 1082.0,774.2 1083.5,774.6 1085.0,775.0 1086.5,775.5 1088.0,775.8 1089.5,776.2 1091.0,776.6 1092.5,777.0 1094.0,777.3 1095.5,777.7 1097.0,778.1 1098.5,778.5 1100.0,779.0 1101.5,779.4 1103.0,779.9 1104.5,780.4 1106.0,780.9 1107.5,781.5 1109.0,782.0 1110.5,782.5 1112.0,783.1 1113.5,783.6 1115.0,784.1 1116.5,784.6 1118.0,785.2 1119.5,785.7 1121.0,786.2 1122.5,786.7 1124.0,787.2 1125.5,787.8 1127.0,788.3 1128.5,788.7 1130.0,789.2 1131.5,789.7 1133.0,790.1 1134.5,790.6 1136.0,791.0 1137.5,791.5 1139.0,792.0 1140.5,792.5 1142.0,793.0 1143.5,793.5 1145.0,794.0 1146.5,794.6 1148.0,795.1 1149.5,795.6 1151.0,796.1 1152.5,796.6 1154.0,797.1 1155.5,797.6 1157.0,798.0 1158.5,798.5 1160.0,798.9 1161.5,799.4 1163.0,799.8 1164.5,800.3 1166.0,800.7 1167.5,801.2 1169.0,801.7 1170.5,802.1 1172.0,802.6 1173.5,803.1 1175.0,803.6 1176.5,804.1 1178.0,804.7 1179.5,805.2 1181.0,805.7 1182.5,806.2 1184.0,806.8 1185.5,807.3 1187.0,807.8 1188.5,808.3 1190.0,808.8 1191.5,809.3 1193.0,809.9 1194.5,810.4 1196.0,810.9 1197.5,811.4 1199.0,811.9 1200.5,812.5 1202.0,813.0 1203.5,813.6 1205.0,814.2 1206.5,814.8 1208.0,815.5 1209.5,816.1 1211.0,816.8 1212.5,817.5 1214.0,818.2 1215.5,818.9 1217.0,819.6 1218.5,820.3 1220.0,820.9 1221.5,821.6 1223.0,822.3 1224.5,823.0 1226.0,823.7 1227.5,824.4 1229.0,825.0 1230.5,825.7 1232.0,826.4 1233.5,827.1 1235.0,827.7 1236.5,828.4 1238.0,829.0 1239.5,829.7 1241.0,830.3 1242.5,830.9 1244.0,831.6 1245.5,832.2 1247.0,832.8 1248.5,833.4 1250.0,834.0 1251.5,834.6 1253.0,835.1 1254.5,835.7 1256.0,836.2 1257.5,836.7 1259.0,837.2 1260.5,837.7 1262.0,838.1 1263.5,838.6 1265.0,839.0 1266.5,839.4 1268.0,839.8 1269.5,840.3 1271.0,840.7 1272.5,841.1 1274.0,841.6 1275.5,842.0 1277.0,842.5 1278.5,842.9 1280.0,843.4 1281.5,843.8 1283.0,844.3 1284.5,844.7 1286.0,845.2 1287.5,845.6 1289.0,846.1 1290.5,846.5 1292.0,847.0 1293.5,847.4 1295.0,847.9 1296.5,848.3 1298.0,848.8 1299.5,849.2 1301.0,849.7 1302.5,850.2 1304.0,850.6 1305.5,851.1 1307.0,851.5 1308.5,852.0 1310.0,852.4 1311.5,852.9 1313.0,853.3 1314.5,853.8 1316.0,854.2 1317.5,854.7 1319.0,855.1 1320.5,855.6 1322.0,856.0 1323.5,856.5 1325.0,857.0 1326.5,857.4 1328.0,857.9 1329.5,858.3 1331.0,858.8 1332.5,859.2 1334.0,859.7 1335.5,860.1 1337.0,860.6 1338.5,861.0 1340.0,861.4 1341.5,861.8 1343.0,862.2 1344.5,862.5 1346.0,862.9 1347.5,863.3 1349.0,863.6 1350.5,863.9 1352.0,864.3" stroke="#e04ae0"/>
<path d="M109.0,1013.0 110.5,1010.0 112.0,1007.1 113.5,1004.3 115.0,1001.5 116.5,998.8 118.0,996.0 119.5,993.3 121.0,990.6 122.5,987.8 124.0,984.9 125.5,982.1 127.0,979.1 128.5,976.2 130.0,973.2 131.5,970.2 133.0,967.2 134.5,964.1 136.0,961.1 137.5,958.1 139.0,955.1 140.5,952.2 142.0,949.2 143.5,946.2 145.0,943.2 146.5,940.2 148.0,937.2 149.5,934.2 151.0,931.2 152.5,928.2 154.0,925.2 155.5,922.2 157.0,919.2 158.5,916.2 160.0,913.1 161.5,910.1 163.0,907.1 164.5,904.1 166.0,901.1 167.5,898.2 169.0,895.3 170.5,892.4 172.0,889.6 173.5,886.9 175.0,884.1 176.5,881.4 178.0,878.7 179.5,876.0 181.0,873.3 182.5,870.6 184.0,867.9 185.5,865.2 187.0,862.5 188.5,859.8 190.0,857.3 191.5,854.8 193.0,852.5 194.5,850.3 196.0,848.1 197.5,846.0 199.0,844.0 200.5,841.9 202.0,839.8 203.5,837.7 205.0,835.4 206.5,833.1 208.0,830.6 209.5,828.2 211.0,825.7 212.5,823.3 214.0,820.9 215.5,818.7 217.0,816.5 218.5,814.4 220.0,812.3 221.5,810.3 223.0,808.4 224.5,806.5 226.0,804.6 227.5,802.8 229.0,801.1 230.5,799.4 232.0,797.8 233.5,796.2 235.0,794.6 236.5,793.1 238.0,791.5 239.5,789.9 241.0,788.3 242.5,786.6 244.0,784.8 245.5,783.1 247.0,781.3 248.5,779.5 250.0,777.6 251.5,775.8 253.0,774.0 254.5,772.2 256.0,770.4 257.5,768.5 259.0,766.6 260.5,764.7 262.0,762.8 263.5,760.9 265.0,759.0 266.5,757.1 268.0,755.2 269.5,753.3 271.0,751.5 272.5,749.7 274.0,747.8 275.5,746.0 277.0,744.0 278.5,742.0 280.0,739.9 281.5,737.8 283.0,735.6 284.5,733.5 286.0,731.3 287.5,729.2 289.0,727.1 290.5,725.1 292.0,723.2 293.5,721.3 295.0,719.4 296.5,717.6 298.0,715.8 299.5,714.0 301.0,712.3 302.5,710.7 304.0,709.1 305.5,707.6 307.0,706.1 308.5,704.7 310.0,703.4 311.5,702.0 313.0,700.7 314.5,699.3 316.0,698.0 317.5,696.7 319.0,695.3 320.5,694.0 322.0,692.7 323.5,691.3 325.0,690.0 326.5,688.6 328.0,687.1 329.5,685.7 331.0,684.2 332.5,682.8 334.0,681.3 335.5,679.9 337.0,678.6 338.5,677.3 340.0,676.0 341.5,674.8 343.0,673.5 344.5,672.2 346.0,670.9 347.5,669.6 349.0,668.2 350.5,666.9 352.0,665.5 353.5,664.1 355.0,662.7 356.5,661.3 358.0,660.0 359.5,658.7 361.0,657.5 362.5,656.3 364.0,655.1 365.5,654.0 367.0,652.9 368.5,651.7 370.0,650.6 371.5,649.4 373.0,648.2 374.5,647.0 376.0,645.7 377.5,644.4 379.0,643.0 380.5,641.7 382.0,640.3 383.5,639.0 385.0,637.6 386.5,636.2 388.0,634.9 389.5,633.5 391.0,632.2 392.5,630.8 394.0,629.5 395.5,628.1 397.0,626.8 398.5,625.5 400.0,624.1 401.5,622.8 403.0,621.5 404.5,620.2 406.0,618.9 407.5,617.6 409.0,616.4 410.5,615.1 412.0,614.0 413.5,612.8 415.0,611.7 416.5,610.6 418.0,609.5 419.5,608.5 421.0,607.4 422.5,606.4 424.0,605.3 425.5,604.2 427.0,603.1 428.5,601.9 430.0,600.7 431.5,599.5 433.0,598.3 434.5,597.1 436.0,595.9 437.5,594.8 439.0,593.6 440.5,592.5 442.0,591.4 443.5,590.3 445.0,589.2 446.5,588.1 448.0,587.0 449.5,586.0 451.0,584.9 452.5,583.9 454.0,582.9 455.5,581.9 457.0,580.9 458.5,579.9 460.0,579.0 461.5,578.1 463.0,577.2 464.5,576.3 466.0,575.4 467.5,574.6 469.0,573.7 470.5,572.8 472.0,571.9 473.5,570.9 475.0,569.9 476.5,568.8 478.0,567.7 479.5,566.5 481.0,565.3 482.5,564.0 484.0,562.7 485.5,561.4 487.0,560.1 488.5,558.8 490.0,557.5 491.5,556.2 493.0,555.0 494.5,553.7 496.0,552.6 497.5,551.4 499.0,550.3 500.5,549.2 502.0,548.2 503.5,547.1 505.0,546.1 506.5,545.1 508.0,544.1 509.5,543.0 511.0,542.0 512.5,541.0 514.0,540.0 515.5,539.0 517.0,538.0 518.5,537.0 520.0,536.0 521.5,535.0 523.0,534.0 524.5,533.1 526.0,532.1 527.5,531.2 529.0,530.3 530.5,529.4 532.0,528.6 533.5,527.8 535.0,527.0 536.5,526.3 538.0,525.5 539.5,524.8 541.0,524.0 542.5,523.3 544.0,522.6 545.5,521.8 547.0,521.0 548.5,520.2 550.0,519.4 551.5,518.5 553.0,517.6 554.5,516.6 556.0,515.7 557.5,514.7 559.0,513.8 560.5,512.8 562.0,511.9 563.5,511.0 565.0,510.1 566.5,509.2 568.0,508.4 569.5,507.6 571.0,506.9 572.5,506.2 574.0,505.6 575.5,505.0 577.0,504.4 578.5,503.9 580.0,503.3 581.5,502.8 583.0,502.2 584.5,501.7 586.0,501.2 587.5,500.6 589.0,500.1 590.5,499.6 592.0,499.1 593.5,498.5 595.0,498.0 596.5,497.5 598.0,497.0 599.5,496.5 601.0,495.9 602.5,495.4 604.0,494.9 605.5,494.4 607.0,493.8 608.5,493.3 610.0,492.8 611.5,492.2 613.0,491.7 614.5,491.2 616.0,490.6 617.5,490.0 619.0,489.5 620.5,488.9 622.0,488.4 623.5,487.9 625.0,487.4 626.5,486.9 628.0,486.5 629.5,486.1 631.0,485.7 632.5,485.4 634.0,485.1 635.5,484.8 637.0,484.6 638.5,484.4 640.0,484.2 641.5,484.0 643.0,483.8 644.5,483.6 646.0,483.4 647.5,483.2 649.0,483.0 650.5,482.7 652.0,482.5 653.5,482.3 655.0,482.0 656.5,481.8 658.0,481.6 659.5,481.4 661.0,481.1 662.5,480.9 664.0,480.7 665.5,480.5 667.0,480.3 668.5,480.1 670.0,479.9 671.5,479.7 673.0,479.5 674.5,479.3 676.0,479.1 677.5,479.0 679.0,478.8 680.5,478.7 682.0,478.5 683.5,478.4 685.0,478.3 686.5,478.2 688.0,478.1 689.5,478.1 691.0,478.0 692.5,477.9 694.0,477.9 695.5,477.9 697.0,477.8 698.5,477.8 700.0,477.8 701.5,477.8 703.0,477.8 704.5,477.8 706.0,477.9 707.5,477.9 709.0,477.9 710.5,478.0 712.0,478.1 713.5,478.2 715.0,478.3 716.5,478.4 718.0,478.5 719.5,478.6 721.0,478.7 722.5,478.9 724.0,479.1 725.5,479.3 727.0,479.6 728.5,479.9 730.0,480.3 731.5,480.8 733.0,481.4 734.5,482.2 736.0,482.9 737.5,483.8 739.0,484.6 740.5,485.3 742.0,486.0 743.5,486.7 745.0,487.3 746.5,487.8 748.0,488.3 749.5,488.9 751.0,489.4 752.5,489.9 754.0,490.5 755.5,491.0 757.0,491.6 758.5,492.2 760.0,492.9 761.5,493.5 763.0,494.2 764.5,494.9 766.0,495.6 767.5,496.3 769.0,497.1 770.5,497.8 772.0,498.6 773.5,499.3 775.0,500.1 776.5,500.9 778.0,501.7 779.5,502.6 781.0,503.4 782.5,504.3 784.0,505.1 785.5,506.0 787.0,506.8 788.5,507.7 790.0,508.5 791.5,509.4 793.0,510.2 794.5,511.1 796.0,511.9 797.5,512.8 799.0,513.6 800.5,514.5 802.0,515.3 803.5,516.1 805.0,517.0 806.5,517.8 808.0,518.7 809.5,519.5 811.0,520.3 812.5,521.2 814.0,522.0 815.5,522.8 817.0,523.7 818.5,524.5 820.0,525.3 821.5,526.1 823.0,526.8 824.5,527.6 826.0,528.4 827.5,529.1 829.0,529.8 830.5,530.5 832.0,531.1 833.5,531.8 835.0,532.4 836.5,532.9 838.0,533.5 839.5,534.0 841.0,534.5 842.5,535.0 844.0,535.5 845.5,536.0 847.0,536.5 848.5,537.0 850.0,537.4 851.5,537.9 853.0,538.3 854.5,538.7 856.0,539.1 857.5,539.5 859.0,539.8 860.5,540.2 862.0,540.5 863.5,540.9 865.0,541.2 866.5,541.6 868.0,542.0 869.5,542.3 871.0,542.7 872.5,543.1 874.0,543.5 875.5,543.9 877.0,544.2 878.5,544.5 880.0,544.8 881.5,545.0 883.0,545.2 884.5,545.4 886.0,545.6 887.5,545.7 889.0,545.9 890.5,546.0 892.0,546.2 893.5,546.4 895.0,546.6 896.5,546.8 898.0,547.1 899.5,547.3 901.0,547.6 902.5,548.0 904.0,548.3 905.5,548.6 907.0,549.0 908.5,549.4 910.0,549.8 911.5,550.3 913.0,550.7 914.5,551.2 916.0,551.6 917.5,552.1 919.0,552.5 920.5,553.0 922.0,553.5 923.5,553.9 925.0,554.4 926.5,554.8 928.0,555.3 929.5,555.8 931.0,556.3 932.5,556.8 934.0,557.3 935.5,557.8 937.0,558.3 938.5,558.9 940.0,559.4 941.5,560.0 943.0,560.6 944.5,561.1 946.0,561.7 947.5,562.3 949.0,562.9 950.5,563.6 952.0,564.2 953.5,564.8 955.0,565.5 956.5,566.2 958.0,566.8 959.5,567.5 961.0,568.3 962.5,569.0 964.0,569.8 965.5,570.5 967.0,571.3 968.5,572.2 970.0,573.0 971.5,573.8 973.0,574.6 974.5,575.4 976.0,576.2 977.5,577.0 979.0,577.7 980.5,578.5 982.0,579.3 983.5,580.0 985.0,580.8 986.5,581.5 988.0,582.3 989.5,583.0 991.0,583.8 992.5,584.5 994.0,585.2 995.5,585.9 997.0,586.6 998.5,587.3 1000.0,588.0 1001.5,588.6 1003.0,589.2 1004.5,589.9 1006.0,590.5 1007.5,591.1 1009.0,591.8 1010.5,592.4 1012.0,593.0 1013.5,593.7 1015.0,594.4 1016.5,595.0 1018.0,595.7 1019.5,596.4 1021.0,597.1 1022.5,597.8 1024.0,598.4 1025.5,599.1 1027.0,599.8 1028.5,600.5 1030.0,601.2 1031.5,601.8 1033.0,602.5 1034.5,603.2 1036.0,603.9 1037.5,604.5 1039.0,605.2 1040.5,605.9 1042.0,606.5 1043.5,607.2 1045.0,607.9 1046.5,608.6 1048.0,609.2 1049.5,609.9 1051.0,610.6 1052.5,611.4 1054.0,612.1 1055.5,612.8 1057.0,613.6 1058.5,614.3 1060.0,615.1 1061.5,615.8 1063.0,616.5 1064.5,617.2 1066.0,617.9 1067.5,618.6 1069.0,619.3 1070.5,620.0 1072.0,620.7 1073.5,621.4 1075.0,622.1 1076.5,622.7 1078.0,623.4 1079.5,624.1 1081.0,624.8 1082.5,625.4 1084.0,626.1 1085.5,626.8 1087.0,627.5 1088.5,628.1 1090.0,628.8 1091.5,629.5 1093.0,630.2 1094.5,630.8 1096.0,631.5 1097.5,632.2 1099.0,632.8 1100.5,633.5 1102.0,634.1 1103.5,634.8 1105.0,635.4 1106.5,636.0 1108.0,636.6 1109.5,637.2 1111.0,637.8 1112.5,638.4 1114.0,639.0 1115.5,639.6 1117.0,640.2 1118.5,640.8 1120.0,641.4 1121.5,642.0 1123.0,642.6 1124.5,643.2 1126.0,643.8 1127.5,644.4 1129.0,645.0 1130.5,645.6 1132.0,646.2 1133.5,646.8 1135.0,647.4 1136.5,647.9 1138.0,648.5 1139.5,649.1 1141.0,649.6 1142.5,650.1 1144.0,650.7 1145.5,651.2 1147.0,651.7 1148.5,652.3 1150.0,652.9 1151.5,653.5 1153.0,654.1 1154.5,654.8 1156.0,655.4 1157.5,656.2 1159.0,656.9 1160.5,657.6 1162.0,658.4 1163.5,659.2 1165.0,659.9 1166.5,660.7 1168.0,661.5 1169.5,662.2 1171.0,663.0 1172.5,663.7 1174.0,664.5 1175.5,665.3 1177.0,666.1 1178.5,666.9 1180.0,667.7 1181.5,668.5 1183.0,669.4 1184.5,670.3 1186.0,671.2 1187.5,672.1 1189.0,673.1 1190.5,674.1 1192.0,675.2 1193.5,676.2 1195.0,677.3 1196.5,678.3 1198.0,679.4 1199.5,680.5 1201.0,681.6 1202.5,682.7 1204.0,683.8 1205.5,684.9 1207.0,686.0 1208.5,687.0 1210.0,688.0 1211.5,689.0 1213.0,690.0 1214.5,690.9 1216.0,691.8 1217.5,692.7 1219.0,693.6 1220.5,694.5 1222.0,695.4 1223.5,696.3 1225.0,697.1 1226.5,698.0 1228.0,698.9 1229.5,699.8 1231.0,700.7 1232.5,701.6 1234.0,702.6 1235.5,703.5 1237.0,704.5 1238.5,705.5 1240.0,706.4 1241.5,707.5 1243.0,708.5 1244.5,709.5 1246.0,710.6 1247.5,711.6 1249.0,712.7 1250.5,713.7 1252.0,714.8 1253.5,715.8 1255.0,716.9 1256.5,717.9 1258.0,719.0 1259.5,720.0 1261.0,721.1 1262.5,722.1 1264.0,723.1 1265.5,724.1 1267.0,725.1 1268.5,726.1 1270.0,727.1 1271.5,728.0 1273.0,728.9 1274.5,729.8 1276.0,730.6 1277.5,731.4 1279.0,732.2 1280.5,732.9 1282.0,733.6 1283.5,734.3 1285.0,734.9 1286.5,735.5 1288.0,736.1 1289.5,736.7 1291.0,737.3 1292.5,737.8 1294.0,738.4 1295.5,738.9 1297.0,739.5 1298.5,740.0 1300.0,740.5 1301.5,741.0 1303.0,741.5 1304.5,742.0 1306.0,742.5 1307.5,742.9 1309.0,743.4 1310.5,743.8 1312.0,744.3 1313.5,744.7 1315.0,745.2 1316.5,745.6 1318.0,746.0 1319.5,746.5 1321.0,746.9 1322.5,747.4 1324.0,747.8 1325.5,748.2 1327.0,748.7 1328.5,749.2 1330.0,749.6 1331.5,750.1 1333.0,750.6 1334.5,751.1 1336.0,751.6 1337.5,752.1 1339.0,752.6 1340.5,753.2 1342.0,753.7 1343.5,754.2 1345.0,754.7 1346.5,755.2 1348.0,755.8 1349.5,756.3 1351.0,756.8 1352.5,757.3" stroke="#e89a48"/>
<path d="M110.0,1013.0 111.5,1010.8 113.0,1008.6 114.5,1006.4 116.0,1004.0 117.5,1001.6 119.0,999.2 120.5,996.8 122.0,994.4 123.5,991.9 125.0,989.5 126.5,987.1 128.0,984.7 129.5,982.3 131.0,979.9 132.5,977.5 134.0,975.1 135.5,972.8 137.0,970.4 138.5,967.9 140.0,965.5 141.5,963.1 143.0,960.7 144.5,958.3 146.0,955.9 147.5,953.5 149.0,951.1 150.5,948.7 152.0,946.3 153.5,943.9 155.0,941.4 156.5,938.9 158.0,936.4 159.5,933.8 161.0,931.1 162.5,928.4 164.0,925.8 165.5,923.1 167.0,920.4 168.5,917.7 170.0,915.0 171.5,912.3 173.0,909.6 174.5,906.8 176.0,904.1 177.5,901.4 179.0,898.6 180.5,895.9 182.0,893.2 183.5,890.6 185.0,888.1 186.5,885.8 188.0,883.6 189.5,881.5 191.0,879.6 192.5,877.7 194.0,875.8 195.5,873.9 197.0,872.0 198.5,869.9 200.0,867.8 201.5,865.5 203.0,863.1 204.5,860.7 206.0,858.2 207.5,855.8 209.0,853.4 210.5,851.1 212.0,848.9 213.5,846.7 215.0,844.6 216.5,842.6 218.0,840.7 219.5,838.8 221.0,836.9 222.5,835.1 224.0,833.4 225.5,831.7 227.0,830.1 228.5,828.6 230.0,827.2 231.5,825.7 233.0,824.4 234.5,823.0 236.0,821.6 237.5,820.2 239.0,818.7 240.5,817.2 242.0,815.7 243.5,814.1 245.0,812.5 246.5,810.8 248.0,809.1 249.5,807.4 251.0,805.5 252.5,803.6 254.0,801.7 255.5,799.7 257.0,797.7 258.5,795.7 260.0,793.6 261.5,791.6 263.0,789.5 264.5,787.5 266.0,785.5 267.5,783.5 269.0,781.5 270.5,779.5 272.0,777.4 273.5,775.3 275.0,773.2 276.5,771.1 278.0,769.0 279.5,766.9 281.0,764.8 282.5,762.8 284.0,760.9 285.5,759.1 287.0,757.3 288.5,755.5 290.0,753.8 291.5,752.1 293.0,750.4 294.5,748.7 296.0,747.0 297.5,745.3 299.0,743.5 300.5,741.6 302.0,739.7 303.5,737.7 305.0,735.6 306.5,733.4 308.0,731.2 309.5,728.9 311.0,726.6 312.5,724.3 314.0,721.9 315.5,719.5 317.0,717.2 318.5,714.8 320.0,712.5 321.5,710.2 323.0,707.9 324.5,705.7 326.0,703.4 327.5,701.2 329.0,699.0 330.5,696.9 332.0,694.8 333.5,692.7 335.0,690.7 336.5,688.8 338.0,687.0 339.5,685.3 341.0,683.6 342.5,682.1 344.0,680.7 345.5,679.4 347.0,678.2 348.5,677.0 350.0,675.9 351.5,674.8 353.0,673.7 354.5,672.5 356.0,671.3 357.5,670.0 359.0,668.7 360.5,667.2 362.0,665.8 363.5,664.2 365.0,662.7 366.5,661.1 368.0,659.5 369.5,658.0 371.0,656.4 372.5,655.0 374.0,653.5 375.5,652.1 377.0,650.8 378.5,649.4 380.0,648.1 381.5,646.9 383.0,645.7 384.5,644.5 386.0,643.3 387.5,642.2 389.0,641.0 390.5,639.9 392.0,638.9 393.5,637.8 395.0,636.8 396.5,635.8 398.0,634.8 399.5,633.8 401.0,632.9 402.5,631.9 404.0,631.0 405.5,630.1 407.0,629.2 408.5,628.3 410.0,627.4 411.5,626.5 413.0,625.6 414.5,624.6 416.0,623.7 417.5,622.7 419.0,621.7 420.5,620.7 422.0,619.8 423.5,618.8 425.0,617.9 426.5,617.0 428.0,616.1 429.5,615.3 431.0,614.4 432.5,613.6 434.0,612.8 435.5,611.9 437.0,611.1 438.5,610.2 440.0,609.3 441.5,608.3 443.0,607.4 444.5,606.4 446.0,605.4 447.5,604.4 449.0,603.4 450.5,602.4 452.0,601.4 453.5,600.4 455.0,599.4 456.5,598.4 458.0,597.4 459.5,596.4 461.0,595.5 462.5,594.5 464.0,593.5 465.5,592.5 467.0,591.5 468.5,590.5 470.0,589.6 471.5,588.6 473.0,587.7 474.5,586.7 476.0,585.8 477.5,584.9 479.0,584.1 480.5,583.2 482.0,582.4 483.5,581.6 485.0,580.7 486.5,579.9 488.0,579.1 489.5,578.3 491.0,577.4 492.5,576.6 494.0,575.7 495.5,574.8 497.0,573.9 498.5,572.9 500.0,571.9 501.5,570.9 503.0,569.9 504.5,568.9 506.0,568.0 507.5,567.0 509.0,566.0 510.5,565.1 512.0,564.1 513.5,563.2 515.0,562.3 516.5,561.5 518.0,560.6 519.5,559.8 521.0,559.0 522.5,558.2 524.0,557.4 525.5,556.5 527.0,555.7 528.5,554.9 530.0,554.1 531.5,553.2 533.0,552.3 534.5,551.4 536.0,550.6 537.5,549.7 539.0,548.8 540.5,547.9 542.0,546.9 543.5,546.0 545.0,545.1 546.5,544.3 548.0,543.4 549.5,542.5 551.0,541.6 552.5,540.7 554.0,539.9 555.5,539.0 557.0,538.2 558.5,537.3 560.0,536.5 561.5,535.7 563.0,534.9 564.5,534.1 566.0,533.3 567.5,532.6 569.0,531.8 570.5,531.1 572.0,530.5 573.5,529.8 575.0,529.2 576.5,528.7 578.0,528.1 579.5,527.5 581.0,527.0 582.5,526.4 584.0,525.9 585.5,525.4 587.0,524.9 588.5,524.3 590.0,523.8 591.5,523.3 593.0,522.7 594.5,522.2 596.0,521.6 597.5,521.0 599.0,520.3 600.5,519.7 602.0,519.0 603.5,518.3 605.0,517.7 606.5,517.0 608.0,516.4 609.5,515.7 611.0,515.2 612.5,514.6 614.0,514.1 615.5,513.5 617.0,513.0 618.5,512.6 620.0,512.1 621.5,511.6 623.0,511.1 624.5,510.6 626.0,510.1 627.5,509.5 629.0,509.0 630.5,508.4 632.0,507.8 633.5,507.1 635.0,506.5 636.5,505.8 638.0,505.1 639.5,504.4 641.0,503.7 642.5,503.1 644.0,502.4 645.5,501.8 647.0,501.2 648.5,500.6 650.0,500.0 651.5,499.5 653.0,499.0 654.5,498.5 656.0,498.0 657.5,497.5 659.0,497.1 660.5,496.6 662.0,496.2 663.5,495.7 665.0,495.3 666.5,494.9 668.0,494.5 669.5,494.1 671.0,493.7 672.5,493.3 674.0,492.9 675.5,492.6 677.0,492.2 678.5,491.8 680.0,491.5 681.5,491.2 683.0,490.8 684.5,490.5 686.0,490.2 687.5,489.8 689.0,489.5 690.5,489.2 692.0,488.9 693.5,488.7 695.0,488.4 696.5,488.1 698.0,487.9 699.5,487.7 701.0,487.5 702.5,487.3 704.0,487.1 705.5,486.9 707.0,486.8 708.5,486.6 710.0,486.5 711.5,486.4 713.0,486.3 714.5,486.3 716.0,486.2 717.5,486.2 719.0,486.2 720.5,486.2 722.0,486.2 723.5,486.2 725.0,486.3 726.5,486.4 728.0,486.5 729.5,486.7 731.0,486.9 732.5,487.2 734.0,487.6 735.5,488.0 737.0,488.4 738.5,488.9 740.0,489.3 741.5,489.7 743.0,490.1 744.5,490.4 746.0,490.7 747.5,491.0 749.0,491.3 750.5,491.6 752.0,492.0 753.5,492.3 755.0,492.6 756.5,493.0 758.0,493.3 759.5,493.7 761.0,494.1 762.5,494.5 764.0,494.9 765.5,495.4 767.0,495.8 768.5,496.3 770.0,496.7 771.5,497.2 773.0,497.8 774.5,498.3 776.0,498.8 777.5,499.4 779.0,500.0 780.5,500.6 782.0,501.2 783.5,501.8 785.0,502.5 786.5,503.1 788.0,503.8 789.5,504.4 791.0,505.1 792.5,505.8 794.0,506.4 795.5,507.1 797.0,507.8 798.5,508.5 800.0,509.2 801.5,509.9 803.0,510.6 804.5,511.4 806.0,512.2 807.5,513.0 809.0,513.9 810.5,514.8 812.0,515.8 813.5,516.7 815.0,517.7 816.5,518.7 818.0,519.7 819.5,520.7 821.0,521.7 822.5,522.7 824.0,523.7 825.5,524.6 827.0,525.6 828.5,526.5 830.0,527.4 831.5,528.3 833.0,529.2 834.5,530.1 836.0,531.0 837.5,531.9 839.0,532.7 840.5,533.6 842.0,534.4 843.5,535.2 845.0,536.0 846.5,536.8 848.0,537.5 849.5,538.3 851.0,539.0 852.5,539.7 854.0,540.4 855.5,541.1 857.0,541.7 858.5,542.4 860.0,543.0 861.5,543.6 863.0,544.3 864.5,544.9 866.0,545.6 867.5,546.3 869.0,547.0 870.5,547.7 872.0,548.4 873.5,549.2 875.0,549.9 876.5,550.6 878.0,551.2 879.5,551.9 881.0,552.5 882.5,553.1 884.0,553.6 885.5,554.2 887.0,554.7 888.5,555.3 890.0,555.8 891.5,556.4 893.0,557.0 894.5,557.5 896.0,558.1 897.5,558.6 899.0,559.1 900.5,559.7 902.0,560.2 903.5,560.7 905.0,561.3 906.5,561.8 908.0,562.3 909.5,562.8 911.0,563.4 912.5,563.9 914.0,564.4 915.5,564.9 917.0,565.4 918.5,566.0 920.0,566.5 921.5,567.0 923.0,567.5 924.5,568.1 926.0,568.6 927.5,569.2 929.0,569.7 930.5,570.3 932.0,570.9 933.5,571.5 935.0,572.1 936.5,572.7 938.0,573.3 939.5,573.9 941.0,574.5 942.5,575.2 944.0,575.8 945.5,576.5 947.0,577.2 948.5,577.9 950.0,578.6 951.5,579.3 953.0,580.1 954.5,580.9 956.0,581.7 957.5,582.5 959.0,583.3 960.5,584.2 962.0,585.0 963.5,585.9 965.0,586.8 966.5,587.7 968.0,588.6 969.5,589.5 971.0,590.4 972.5,591.2 974.0,592.1 975.5,592.9 977.0,593.7 978.5,594.5 980.0,595.2 981.5,596.0 983.0,596.7 984.5,597.4 986.0,598.0 987.5,598.7 989.0,599.3 990.5,599.9 992.0,600.5 993.5,601.1 995.0,601.7 996.5,602.3 998.0,602.9 999.5,603.5 1001.0,604.0 1002.5,604.6 1004.0,605.2 1005.5,605.8 1007.0,606.4 1008.5,607.0 1010.0,607.5 1011.5,608.1 1013.0,608.7 1014.5,609.3 1016.0,609.9 1017.5,610.5 1019.0,611.1 1020.5,611.7 1022.0,612.3 1023.5,612.9 1025.0,613.6 1026.5,614.2 1028.0,614.9 1029.5,615.5 1031.0,616.2 1032.5,616.9 1034.0,617.6 1035.5,618.2 1037.0,618.9 1038.5,619.5 1040.0,620.2 1041.5,620.8 1043.0,621.4 1044.5,622.0 1046.0,622.6 1047.5,623.2 1049.0,623.8 1050.5,624.3 1052.0,624.8 1053.5,625.3 1055.0,625.8 1056.5,626.3 1058.0,626.7 1059.5,627.2 1061.0,627.6 1062.5,628.0 1064.0,628.4 1065.5,628.8 1067.0,629.2 1068.5,629.5 1070.0,629.9 1071.5,630.3 1073.0,630.6 1074.5,631.0 1076.0,631.4 1077.5,631.7 1079.0,632.1 1080.5,632.5 1082.0,632.9 1083.5,633.3 1085.0,633.6 1086.5,634.0 1088.0,634.3 1089.5,634.7 1091.0,635.0 1092.5,635.3 1094.0,635.6 1095.5,636.0 1097.0,636.3 1098.5,636.6 1100.0,636.9 1101.5,637.2 1103.0,637.6 1104.5,637.9 1106.0,638.3 1107.5,638.6 1109.0,639.0 1110.5,639.4 1112.0,639.7 1113.5,640.1 1115.0,640.5 1116.5,640.9 1118.0,641.2 1119.5,641.6 1121.0,642.0 1122.5,642.4 1124.0,642.7 1125.5,643.1 1127.0,643.4 1128.5,643.8 1130.0,644.1 1131.5,644.4 1133.0,644.7 1134.5,645.0 1136.0,645.3 1137.5,645.7 1139.0,646.0 1140.5,646.3 1142.0,646.7 1143.5,647.0 1145.0,647.4 1146.5,647.7 1148.0,648.1 1149.5,648.5 1151.0,648.9 1152.5,649.3 1154.0,649.7 1155.5,650.1 1157.0,650.5 1158.5,650.9 1160.0,651.4 1161.5,651.9 1163.0,652.3 1164.5,652.8 1166.0,653.4 1167.5,653.9 1169.0,654.4 1170.5,655.0 1172.0,655.6 1173.5,656.1 1175.0,656.7 1176.5,657.3 1178.0,657.9 1179.5,658.5 1181.0,659.1 1182.5,659.8 1184.0,660.4 1185.5,661.1 1187.0,661.8 1188.5,662.5 1190.0,663.3 1191.5,664.0 1193.0,664.8 1194.5,665.6 1196.0,666.4 1197.5,667.3 1199.0,668.1 1200.5,669.0 1202.0,669.9 1203.5,670.8 1205.0,671.7 1206.5,672.6 1208.0,673.5 1209.5,674.5 1211.0,675.4 1212.5,676.3 1214.0,677.2 1215.5,678.1 1217.0,679.0 1218.5,679.9 1220.0,680.8 1221.5,681.6 1223.0,682.5 1224.5,683.5 1226.0,684.4 1227.5,685.3 1229.0,686.2 1230.5,687.1 1232.0,688.0 1233.5,688.9 1235.0,689.8 1236.5,690.7 1238.0,691.6 1239.5,692.5 1241.0,693.4 1242.5,694.3 1244.0,695.2 1245.5,696.0 1247.0,696.9 1248.5,697.8 1250.0,698.7 1251.5,699.6 1253.0,700.5 1254.5,701.4 1256.0,702.3 1257.5,703.2 1259.0,704.1 1260.5,705.0 1262.0,705.9 1263.5,706.7 1265.0,707.5 1266.5,708.3 1268.0,709.1 1269.5,709.8 1271.0,710.6 1272.5,711.3 1274.0,712.1 1275.5,712.8 1277.0,713.6 1278.5,714.3 1280.0,715.1 1281.5,715.8 1283.0,716.6 1284.5,717.4 1286.0,718.1 1287.5,718.9 1289.0,719.6 1290.5,720.4 1292.0,721.1 1293.5,721.9 1295.0,722.7 1296.5,723.4 1298.0,724.2 1299.5,724.9 1301.0,725.7 1302.5,726.4 1304.0,727.2 1305.5,727.9 1307.0,728.7 1308.5,729.4 1310.0,730.2 1311.5,730.9 1313.0,731.7 1314.5,732.4 1316.0,733.2 1317.5,733.9 1319.0,734.7 1320.5,735.5 1322.0,736.2 1323.5,737.0 1325.0,737.7 1326.5,738.5 1328.0,739.2 1329.5,739.9 1331.0,740.6 1332.5,741.2 1334.0,741.9 1335.5,742.5 1337.0,743.1 1338.5,743.7 1340.0,744.3 1341.5,744.9 1343.0,745.5 1344.5,746.1 1346.0,746.7 1347.5,747.3 1349.0,747.9 1350.5,748.5 1352.0,749.1" stroke="#7e3ce0"/>
<path d="M109.5,771.8 111.0,770.6 112.5,769.3 114.0,768.1 115.5,766.8 117.0,765.6 118.5,764.3 120.0,762.9 121.5,761.6 123.0,760.3 124.5,758.9 126.0,757.6 127.5,756.2 129.0,754.9 130.5,753.5 132.0,752.2 133.5,750.8 135.0,749.5 136.5,748.1 138.0,746.8 139.5,745.3 141.0,743.9 142.5,742.4 144.0,740.9 145.5,739.3 147.0,737.7 148.5,736.0 150.0,734.4 151.5,732.8 153.0,731.1 154.5,729.5 156.0,728.0 157.5,726.4 159.0,724.9 160.5,723.4 162.0,721.9 163.5,720.4 165.0,718.9 166.5,717.4 168.0,715.9 169.5,714.4 171.0,712.9 172.5,711.4 174.0,709.9 175.5,708.4 177.0,706.9 178.5,705.4 180.0,703.9 181.5,702.4 183.0,700.9 184.5,699.4 186.0,697.9 187.5,696.4 189.0,694.9 190.5,693.4 192.0,691.9 193.5,690.4 195.0,688.9 196.5,687.4 198.0,685.9 199.5,684.4 201.0,682.9 202.5,681.4 204.0,680.0 205.5,678.6 207.0,677.2 208.5,675.8 210.0,674.4 211.5,673.1 213.0,671.7 214.5,670.4 216.0,669.0 217.5,667.7 219.0,666.3 220.5,665.0 222.0,663.7 223.5,662.3 225.0,661.0 226.5,659.6 228.0,658.3 229.5,657.0 231.0,655.6 232.5,654.3 234.0,652.9 235.5,651.6 237.0,650.1 238.5,648.7 240.0,647.1 241.5,645.5 243.0,643.9 244.5,642.3 246.0,640.6 247.5,639.0 249.0,637.3 250.5,635.7 252.0,634.0 253.5,632.4 255.0,630.7 256.5,629.1 258.0,627.4 259.5,625.8 261.0,624.2 262.5,622.6 264.0,621.0 265.5,619.4 267.0,617.9 268.5,616.3 270.0,614.8 271.5,613.4 273.0,612.0 274.5,610.6 276.0,609.2 277.5,607.8 279.0,606.5 280.5,605.2 282.0,604.0 283.5,602.7 285.0,601.5 286.5,600.3 288.0,599.2 289.5,598.1 291.0,596.9 292.5,595.9 294.0,594.8 295.5,593.7 297.0,592.7 298.5,591.6 300.0,590.6 301.5,589.5 303.0,588.5 304.5,587.5 306.0,586.5 307.5,585.5 309.0,584.6 310.5,583.7 312.0,582.8 313.5,581.9 315.0,581.0 316.5,580.1 318.0,579.2 319.5,578.3 321.0,577.4 322.5,576.6 324.0,575.7 325.5,574.9 327.0,574.1 328.5,573.4 330.0,572.6 331.5,571.8 333.0,571.1 334.5,570.3 336.0,569.6 337.5,568.8 339.0,568.1 340.5,567.4 342.0,566.7 343.5,566.0 345.0,565.4 346.5,564.7 348.0,564.0 349.5,563.3 351.0,562.7 352.5,562.0 354.0,561.3 355.5,560.6 357.0,559.9 358.5,559.2 360.0,558.4 361.5,557.7 363.0,556.9 364.5,556.1 366.0,555.3 367.5,554.5 369.0,553.6 370.5,552.8 372.0,551.9 373.5,551.1 375.0,550.2 376.5,549.3 378.0,548.4 379.5,547.5 381.0,546.7 382.5,545.8 384.0,545.0 385.5,544.1 387.0,543.3 388.5,542.4 390.0,541.5 391.5,540.6 393.0,539.7 394.5,538.7 396.0,537.8 397.5,536.8 399.0,535.9 400.5,534.9 402.0,534.0 403.5,533.1 405.0,532.1 406.5,531.2 408.0,530.2 409.5,529.2 411.0,528.2 412.5,527.2 414.0,526.2 415.5,525.2 417.0,524.2 418.5,523.3 420.0,522.4 421.5,521.5 423.0,520.5 424.5,519.6 426.0,518.7 427.5,517.9 429.0,517.0 430.5,516.2 432.0,515.4 433.5,514.6 435.0,513.9 436.5,513.2 438.0,512.5 439.5,511.8 441.0,511.1 442.5,510.4 444.0,509.6 445.5,508.9 447.0,508.1 448.5,507.4 450.0,506.6 451.5,505.9 453.0,505.2 454.5,504.5 456.0,503.8 457.5,503.2 459.0,502.5 460.5,501.9 462.0,501.2 463.5,500.6 465.0,500.0 466.5,499.4 468.0,498.8 469.5,498.2 471.0,497.6 472.5,496.9 474.0,496.3 475.5,495.7 477.0,495.0 478.5,494.3 480.0,493.6 481.5,492.9 483.0,492.1 484.5,491.3 486.0,490.5 487.5,489.6 489.0,488.7 490.5,487.8 492.0,486.9 493.5,486.0 495.0,485.0 496.5,484.0 498.0,483.0 499.5,481.9 501.0,480.9 502.5,479.8 504.0,478.7 505.5,477.6 507.0,476.4 508.5,475.3 510.0,474.2 511.5,473.1 513.0,471.9 514.5,470.7 516.0,469.6 517.5,468.3 519.0,467.1 520.5,465.9 522.0,464.6 523.5,463.3 525.0,462.0 526.5,460.7 528.0,459.3 529.5,458.0 531.0,456.6 532.5,455.3 534.0,453.9 535.5,452.6 537.0,451.2 538.5,449.9 540.0,448.5 541.5,447.1 543.0,445.7 544.5,444.2 546.0,442.7 547.5,441.2 549.0,439.6 550.5,438.0 552.0,436.4 553.5,434.8 555.0,433.2 556.5,431.6 558.0,430.1 559.5,428.6 561.0,427.1 562.5,425.6 564.0,424.2 565.5,422.7 567.0,421.1 568.5,419.5 570.0,417.9 571.5,416.3 573.0,414.6 574.5,412.9 576.0,411.3 577.5,409.6 579.0,407.9 580.5,406.3 582.0,404.6 583.5,403.0 585.0,401.3 586.5,399.7 588.0,398.1 589.5,396.4 591.0,394.8 592.5,393.1 594.0,391.5 595.5,389.9 597.0,388.2 598.5,386.6 600.0,385.0 601.5,383.3 603.0,381.7 604.5,380.0 606.0,378.3 607.5,376.7 609.0,375.0 610.5,373.3 612.0,371.7 613.5,370.1 615.0,368.5 616.5,366.9 618.0,365.3 619.5,363.7 621.0,362.2 622.5,360.7 624.0,359.2 625.5,357.7 627.0,356.3 628.5,354.8 630.0,353.4 631.5,352.0 633.0,350.6 634.5,349.2 636.0,347.9 637.5,346.5 639.0,345.2 640.5,343.9 642.0,342.6 643.5,341.2 645.0,339.9 646.5,338.7 648.0,337.4 649.5,336.1 651.0,334.9 652.5,333.6 654.0,332.4 655.5,331.3 657.0,330.1 658.5,329.0 660.0,327.9 661.5,326.9 663.0,325.8 664.5,324.8 666.0,323.7 667.5,322.6 669.0,321.6 670.5,320.5 672.0,319.4 673.5,318.3 675.0,317.2 676.5,316.0 678.0,314.9 679.5,313.7 681.0,312.5 682.5,311.3 684.0,310.1 685.5,308.9 687.0,307.7 688.5,306.6 690.0,305.4 691.5,304.3 693.0,303.2 694.5,302.1 696.0,301.1 697.5,300.1 699.0,299.1 700.5,298.1 702.0,297.2 703.5,296.2 705.0,295.3 706.5,294.4 708.0,293.6 709.5,292.8 711.0,292.0 712.5,291.3 714.0,290.6 715.5,289.9 717.0,289.3 718.5,288.7 720.0,288.2 721.5,287.6 723.0,287.1 724.5,286.7 726.0,286.2 727.5,285.8 729.0,285.5 730.5,285.1 732.0,284.8 733.5,284.6 735.0,284.4 736.5,284.2 738.0,284.0 739.5,283.9 741.0,283.8 742.5,283.8 744.0,283.7 745.5,283.8 747.0,283.8 748.5,283.9 750.0,283.9 751.5,284.0 753.0,284.2 754.5,284.3 756.0,284.5 757.5,284.7 759.0,284.9 760.5,285.2 762.0,285.4 763.5,285.7 765.0,286.0 766.5,286.4 768.0,286.7 769.5,287.1 771.0,287.5 772.5,287.9 774.0,288.4 775.5,288.8 777.0,289.3 778.5,289.8 780.0,290.3 781.5,290.8 783.0,291.3 784.5,291.8 786.0,292.3 787.5,292.8 789.0,293.2 790.5,293.7 792.0,294.1 793.5,294.5 795.0,294.9 796.5,295.3 798.0,295.7 799.5,296.2 801.0,296.6 802.5,297.1 804.0,297.6 805.5,298.2 807.0,298.8 808.5,299.4 810.0,300.0 811.5,300.7 813.0,301.4 814.5,302.1 816.0,302.9 817.5,303.6 819.0,304.4 820.5,305.1 822.0,305.9 823.5,306.6 825.0,307.4 826.5,308.1 828.0,308.8 829.5,309.6 831.0,310.3 832.5,311.0 834.0,311.7 835.5,312.3 837.0,313.0 838.5,313.7 840.0,314.3 841.5,314.9 843.0,315.5 844.5,316.1 846.0,316.7 847.5,317.3 849.0,317.8 850.5,318.4 852.0,318.9 853.5,319.5 855.0,320.0 856.5,320.6 858.0,321.1 859.5,321.7 861.0,322.4 862.5,323.0 864.0,323.7 865.5,324.4 867.0,325.1 868.5,325.8 870.0,326.5 871.5,327.2 873.0,328.0 874.5,328.7 876.0,329.5 877.5,330.2 879.0,330.9 880.5,331.7 882.0,332.4 883.5,333.2 885.0,333.9 886.5,334.7 888.0,335.4 889.5,336.2 891.0,337.0 892.5,337.9 894.0,338.7 895.5,339.5 897.0,340.3 898.5,341.2 900.0,342.0 901.5,342.8 903.0,343.6 904.5,344.5 906.0,345.3 907.5,346.1 909.0,346.9 910.5,347.7 912.0,348.6 913.5,349.4 915.0,350.2 916.5,351.0 918.0,351.8 919.5,352.6 921.0,353.4 922.5,354.2 924.0,355.0 925.5,355.8 927.0,356.6 928.5,357.4 930.0,358.3 931.5,359.1 933.0,359.9 934.5,360.8 936.0,361.7 937.5,362.6 939.0,363.5 940.5,364.4 942.0,365.4 943.5,366.3 945.0,367.3 946.5,368.3 948.0,369.4 949.5,370.4 951.0,371.5 952.5,372.6 954.0,373.7 955.5,374.8 957.0,376.0 958.5,377.1 960.0,378.3 961.5,379.5 963.0,380.7 964.5,381.9 966.0,383.1 967.5,384.3 969.0,385.4 970.5,386.6 972.0,387.7 973.5,388.9 975.0,390.0 976.5,391.1 978.0,392.3 979.5,393.5 981.0,394.6 982.5,395.8 984.0,397.0 985.5,398.2 987.0,399.4 988.5,400.6 990.0,401.8 991.5,403.0 993.0,404.2 994.5,405.4 996.0,406.6 997.5,407.8 999.0,409.0 1000.5,410.2 1002.0,411.4 1003.5,412.6 1005.0,413.7 1006.5,414.9 1008.0,416.2 1009.5,417.4 1011.0,418.7 1012.5,420.0 1014.0,421.3 1015.5,422.7 1017.0,424.0 1018.5,425.5 1020.0,426.9 1021.5,428.3 1023.0,429.7 1024.5,431.1 1026.0,432.5 1027.5,433.8 1029.0,435.2 1030.5,436.5 1032.0,437.9 1033.5,439.3 1035.0,440.6 1036.5,442.0 1038.0,443.4 1039.5,444.8 1041.0,446.3 1042.5,447.7 1044.0,449.1 1045.5,450.5 1047.0,451.8 1048.5,453.1 1050.0,454.4 1051.5,455.7 1053.0,456.9 1054.5,458.1 1056.0,459.3 1057.5,460.4 1059.0,461.4 1060.5,462.4 1062.0,463.4 1063.5,464.3 1065.0,465.2 1066.5,466.1 1068.0,467.0 1069.5,468.0 1071.0,469.0 1072.5,470.0 1074.0,471.1 1075.5,472.2 1077.0,473.3 1078.5,474.4 1080.0,475.5 1081.5,476.6 1083.0,477.7 1084.5,478.8 1086.0,479.9 1087.5,481.0 1089.0,482.1 1090.5,483.1 1092.0,484.2 1093.5,485.2 1095.0,486.2 1096.5,487.3 1098.0,488.3 1099.5,489.4 1101.0,490.4 1102.5,491.5 1104.0,492.5 1105.5,493.5 1107.0,494.6 1108.5,495.6 1110.0,496.7 1111.5,497.7 1113.0,498.8 1114.5,499.9 1116.0,500.9 1117.5,502.0 1119.0,503.1 1120.5,504.1 1122.0,505.2 1123.5,506.2 1125.0,507.2 1126.5,508.2 1128.0,509.2 1129.5,510.1 1131.0,511.0 1132.5,511.9 1134.0,512.8 1135.5,513.7 1137.0,514.6 1138.5,515.4 1140.0,516.3 1141.5,517.2 1143.0,518.1 1144.5,519.0 1146.0,519.9 1147.5,520.8 1149.0,521.7 1150.5,522.6 1152.0,523.5 1153.5,524.5 1155.0,525.4 1156.5,526.4 1158.0,527.5 1159.5,528.5 1161.0,529.5 1162.5,530.6 1164.0,531.7 1165.5,532.7 1167.0,533.8 1168.5,534.8 1170.0,535.9 1171.5,536.9 1173.0,537.9 1174.5,539.0 1176.0,540.0 1177.5,541.0 1179.0,542.1 1180.5,543.2 1182.0,544.4 1183.5,545.5 1185.0,546.7 1186.5,547.9 1188.0,549.2 1189.5,550.4 1191.0,551.7 1192.5,552.9 1194.0,554.2 1195.5,555.4 1197.0,556.6 1198.5,557.8 1200.0,559.0 1201.5,560.1 1203.0,561.3 1204.5,562.4 1206.0,563.5 1207.5,564.6 1209.0,565.7 1210.5,566.8 1212.0,567.9 1213.5,569.1 1215.0,570.2 1216.5,571.3 1218.0,572.5 1219.5,573.7 1221.0,574.8 1222.5,576.0 1224.0,577.2 1225.5,578.4 1227.0,579.6 1228.5,580.8 1230.0,582.1 1231.5,583.4 1233.0,584.6 1234.5,585.9 1236.0,587.3 1237.5,588.6 1239.0,589.9 1240.5,591.3 1242.0,592.7 1243.5,594.0 1245.0,595.4 1246.5,596.7 1248.0,598.1 1249.5,599.5 1251.0,600.8 1252.5,602.2 1254.0,603.5 1255.5,604.9 1257.0,606.3 1258.5,607.6 1260.0,609.0 1261.5,610.3 1263.0,611.7 1264.5,613.1 1266.0,614.4 1267.5,615.8 1269.0,617.1 1270.5,618.5 1272.0,619.8 1273.5,621.2 1275.0,622.5 1276.5,623.8 1278.0,625.1 1279.5,626.4 1281.0,627.6 1282.5,628.9 1284.0,630.1 1285.5,631.3 1287.0,632.5 1288.5,633.7 1290.0,634.9 1291.5,636.1 1293.0,637.3 1294.5,638.5 1296.0,639.7 1297.5,640.9 1299.0,642.1 1300.5,643.3 1302.0,644.5 1303.5,645.7 1305.0,646.9 1306.5,648.0 1308.0,649.2 1309.5,650.3 1311.0,651.5 1312.5,652.6 1314.0,653.7 1315.5,654.7 1317.0,655.8 1318.5,656.9 1320.0,657.9 1321.5,658.9 1323.0,659.9 1324.5,660.9 1326.0,661.9 1327.5,662.8 1329.0,663.8 1330.5,664.7 1332.0,665.6 1333.5,666.5 1335.0,667.4 1336.5,668.3 1338.0,669.2 1339.5,670.0 1341.0,670.9 1342.5,671.8 1344.0,672.7 1345.5,673.6 1347.0,674.5 1348.5,675.4 1350.0,676.2 1351.5,677.1 1353.0,678.0" stroke="#686868"/>
<path d="M108.5,431.5 110.0,429.8 111.5,428.1 113.0,426.4 114.5,424.7 116.0,423.0 117.5,421.4 119.0,419.8 120.5,418.2 122.0,416.6 123.5,415.1 125.0,413.6 126.5,412.1 128.0,410.6 129.5,409.1 131.0,407.6 132.5,406.0 134.0,404.4 135.5,402.9 137.0,401.2 138.5,399.6 140.0,398.0 141.5,396.3 143.0,394.7 144.5,393.0 146.0,391.3 147.5,389.7 149.0,388.0 150.5,386.3 152.0,384.7 153.5,383.0 155.0,381.4 156.5,379.8 158.0,378.2 159.5,376.6 161.0,375.0 162.5,373.5 164.0,371.9 165.5,370.4 167.0,368.9 168.5,367.4 170.0,366.0 171.5,364.5 173.0,363.1 174.5,361.7 176.0,360.3 177.5,358.9 179.0,357.6 180.5,356.2 182.0,354.9 183.5,353.5 185.0,352.2 186.5,350.8 188.0,349.5 189.5,348.1 191.0,346.8 192.5,345.4 194.0,344.0 195.5,342.7 197.0,341.4 198.5,340.1 200.0,338.8 201.5,337.6 203.0,336.3 204.5,335.1 206.0,333.9 207.5,332.7 209.0,331.5 210.5,330.4 212.0,329.3 213.5,328.2 215.0,327.1 216.5,326.0 218.0,324.9 219.5,323.9 221.0,322.8 222.5,321.8 224.0,320.8 225.5,319.8 227.0,318.8 228.5,317.8 230.0,316.9 231.5,315.9 233.0,314.9 234.5,313.9 236.0,312.9 237.5,311.9 239.0,310.9 240.5,309.8 242.0,308.7 243.5,307.7 245.0,306.5 246.5,305.4 248.0,304.3 249.5,303.1 251.0,301.9 252.5,300.6 254.0,299.4 255.5,298.1 257.0,296.9 258.5,295.6 260.0,294.4 261.5,293.2 263.0,292.1 264.5,291.0 266.0,289.9 267.5,288.9 269.0,287.9 270.5,287.0 272.0,286.1 273.5,285.2 275.0,284.4 276.5,283.6 278.0,282.9 279.5,282.2 281.0,281.5 282.5,280.8 284.0,280.2 285.5,279.6 287.0,279.0 288.5,278.5 290.0,278.0 291.5,277.5 293.0,277.1 294.5,276.7 296.0,276.4 297.5,276.1 299.0,275.8 300.5,275.6 302.0,275.4 303.5,275.2 305.0,275.1 306.5,275.0 308.0,275.0 309.5,274.9 311.0,274.9 312.5,274.9 314.0,275.0 315.5,275.0 317.0,275.1 318.5,275.2 320.0,275.3 321.5,275.4 323.0,275.5 324.5,275.6 326.0,275.8 327.5,275.9 329.0,276.1 330.5,276.2 332.0,276.4 333.5,276.6 335.0,276.8 336.5,277.0 338.0,277.2 339.5,277.4 341.0,277.5 342.5,277.7 344.0,277.9 345.5,278.1 347.0,278.2 348.5,278.4 350.0,278.5 351.5,278.7 353.0,278.8 354.5,278.9 356.0,279.0 357.5,279.1 359.0,279.2 360.5,279.2 362.0,279.2 363.5,279.3 365.0,279.2 366.5,279.2 368.0,279.2 369.5,279.1 371.0,279.1 372.5,279.0 374.0,278.9 375.5,278.8 377.0,278.6 378.5,278.5 380.0,278.3 381.5,278.1 383.0,277.9 384.5,277.6 386.0,277.3 387.5,277.0 389.0,276.7 390.5,276.3 392.0,275.9 393.5,275.5 395.0,275.1 396.5,274.7 398.0,274.3 399.5,273.8 401.0,273.4 402.5,272.9 404.0,272.4 405.5,271.9 407.0,271.5 408.5,271.0 410.0,270.6 411.5,270.2 413.0,269.8 414.5,269.4 416.0,269.1 417.5,268.8 419.0,268.5 420.5,268.2 422.0,267.9 423.5,267.6 425.0,267.3 426.5,267.0 428.0,266.7 429.5,266.4 431.0,266.1 432.5,265.9 434.0,265.6 435.5,265.3 437.0,265.1 438.5,264.9 440.0,264.7 441.5,264.5 443.0,264.3 444.5,264.1 446.0,263.9 447.5,263.8 449.0,263.6 450.5,263.5 452.0,263.3 453.5,263.1 455.0,263.0 456.5,262.8 458.0,262.6 459.5,262.4 461.0,262.2 462.5,261.9 464.0,261.7 465.5,261.4 467.0,261.2 468.5,260.9 470.0,260.6 471.5,260.3 473.0,260.0 474.5,259.7 476.0,259.4 477.5,259.1 479.0,258.8 480.5,258.5 482.0,258.2 483.5,257.9 485.0,257.6 486.5,257.3 488.0,256.9 489.5,256.6 491.0,256.2 492.5,255.8 494.0,255.4 495.5,254.9 497.0,254.4 498.5,254.0 500.0,253.5 501.5,252.9 503.0,252.4 504.5,251.8 506.0,251.2 507.5,250.6 509.0,250.0 510.5,249.3 512.0,248.5 513.5,247.7 515.0,246.9 516.5,246.0 518.0,245.2 519.5,244.2 521.0,243.3 522.5,242.3 524.0,241.3 525.5,240.3 527.0,239.3 528.5,238.3 530.0,237.2 531.5,236.1 533.0,235.0 534.5,233.9 536.0,232.7 537.5,231.6 539.0,230.4 540.5,229.2 542.0,228.0 543.5,226.8 545.0,225.6 546.5,224.4 548.0,223.1 549.5,221.9 551.0,220.7 552.5,219.5 554.0,218.3 555.5,217.2 557.0,216.1 558.5,215.1 560.0,214.1 561.5,213.1 563.0,212.1 564.5,211.2 566.0,210.2 567.5,209.2 569.0,208.2 570.5,207.2 572.0,206.1 573.5,205.0 575.0,203.9 576.5,202.7 578.0,201.5 579.5,200.3 581.0,199.1 582.5,198.0 584.0,196.8 585.5,195.7 587.0,194.6 588.5,193.6 590.0,192.5 591.5,191.5 593.0,190.5 594.5,189.5 596.0,188.6 597.5,187.6 599.0,186.7 600.5,185.8 602.0,185.0 603.5,184.1 605.0,183.2 606.5,182.3 608.0,181.4 609.5,180.5 611.0,179.6 612.5,178.7 614.0,177.8 615.5,176.9 617.0,175.9 618.5,175.0 620.0,174.0 621.5,173.1 623.0,172.1 624.5,171.1 626.0,170.2 627.5,169.3 629.0,168.4 630.5,167.5 632.0,166.6 633.5,165.7 635.0,164.9 636.5,164.1 638.0,163.3 639.5,162.5 641.0,161.7 642.5,160.9 644.0,160.2 645.5,159.4 647.0,158.7 648.5,158.0 650.0,157.3 651.5,156.6 653.0,156.0 654.5,155.4 656.0,154.8 657.5,154.2 659.0,153.6 660.5,153.1 662.0,152.5 663.5,152.0 665.0,151.5 666.5,151.1 668.0,150.6 669.5,150.2 671.0,149.8 672.5,149.4 674.0,149.0 675.5,148.6 677.0,148.3 678.5,148.0 680.0,147.7 681.5,147.4 683.0,147.2 684.5,146.9 686.0,146.7 687.5,146.5 689.0,146.3 690.5,146.2 692.0,146.1 693.5,146.0 695.0,145.9 696.5,145.9 698.0,145.9 699.5,145.9 701.0,146.0 702.5,146.1 704.0,146.2 705.5,146.3 707.0,146.5 708.5,146.6 710.0,146.8 711.5,146.9 713.0,147.1 714.5,147.3 716.0,147.5 717.5,147.8 719.0,148.0 720.5,148.3 722.0,148.6 723.5,148.9 725.0,149.3 726.5,149.8 728.0,150.3 729.5,150.9 731.0,151.5 732.5,152.2 734.0,152.9 735.5,153.6 737.0,154.3 738.5,155.1 740.0,155.8 741.5,156.5 743.0,157.1 744.5,157.8 746.0,158.5 747.5,159.3 749.0,160.0 750.5,160.7 752.0,161.5 753.5,162.2 755.0,163.0 756.5,163.7 758.0,164.5 759.5,165.3 761.0,166.0 762.5,166.8 764.0,167.6 765.5,168.4 767.0,169.2 768.5,170.1 770.0,171.0 771.5,171.9 773.0,172.9 774.5,173.9 776.0,175.0 777.5,176.1 779.0,177.2 780.5,178.4 782.0,179.6 783.5,180.9 785.0,182.2 786.5,183.5 788.0,184.7 789.5,186.0 791.0,187.3 792.5,188.6 794.0,189.8 795.5,191.0 797.0,192.1 798.5,193.2 800.0,194.3 801.5,195.4 803.0,196.5 804.5,197.6 806.0,198.7 807.5,199.9 809.0,201.1 810.5,202.3 812.0,203.6 813.5,205.0 815.0,206.4 816.5,207.8 818.0,209.2 819.5,210.6 821.0,212.0 822.5,213.4 824.0,214.7 825.5,215.9 827.0,217.1 828.5,218.2 830.0,219.3 831.5,220.3 833.0,221.3 834.5,222.2 836.0,223.1 837.5,224.1 839.0,225.0 840.5,226.0 842.0,227.0 843.5,228.1 845.0,229.2 846.5,230.3 848.0,231.5 849.5,232.7 851.0,233.9 852.5,235.2 854.0,236.4 855.5,237.6 857.0,238.8 858.5,240.0 860.0,241.2 861.5,242.4 863.0,243.6 864.5,244.8 866.0,245.9 867.5,247.0 869.0,248.1 870.5,249.2 872.0,250.3 873.5,251.3 875.0,252.3 876.5,253.3 878.0,254.3 879.5,255.3 881.0,256.2 882.5,257.1 884.0,258.0 885.5,258.9 887.0,259.8 888.5,260.7 890.0,261.6 891.5,262.5 893.0,263.4 894.5,264.3 896.0,265.2 897.5,266.1 899.0,267.0 900.5,267.9 902.0,268.9 903.5,269.9 905.0,270.9 906.5,271.9 908.0,273.0 909.5,274.0 911.0,275.1 912.5,276.1 914.0,277.2 915.5,278.2 917.0,279.3 918.5,280.3 920.0,281.4 921.5,282.4 923.0,283.5 924.5,284.6 926.0,285.7 927.5,286.8 929.0,288.0 930.5,289.1 932.0,290.3 933.5,291.5 935.0,292.8 936.5,294.0 938.0,295.3 939.5,296.6 941.0,297.9 942.5,299.2 944.0,300.6 945.5,301.9 947.0,303.3 948.5,304.6 950.0,306.0 951.5,307.3 953.0,308.7 954.5,310.0 956.0,311.4 957.5,312.8 959.0,314.1 960.5,315.5 962.0,316.8 963.5,318.2 965.0,319.5 966.5,320.9 968.0,322.2 969.5,323.6 971.0,324.9 972.5,326.2 974.0,327.5 975.5,328.8 977.0,330.0 978.5,331.2 980.0,332.4 981.5,333.6 983.0,334.8 984.5,336.0 986.0,337.2 987.5,338.4 989.0,339.7 990.5,340.9 992.0,342.1 993.5,343.3 995.0,344.5 996.5,345.7 998.0,346.9 999.5,348.1 1001.0,349.2 1002.5,350.3 1004.0,351.4 1005.5,352.5 1007.0,353.6 1008.5,354.6 1010.0,355.7 1011.5,356.7 1013.0,357.7 1014.5,358.7 1016.0,359.7 1017.5,360.6 1019.0,361.6 1020.5,362.6 1022.0,363.6 1023.5,364.6 1025.0,365.6 1026.5,366.6 1028.0,367.7 1029.5,368.7 1031.0,369.7 1032.5,370.8 1034.0,371.7 1035.5,372.7 1037.0,373.6 1038.5,374.5 1040.0,375.3 1041.5,376.1 1043.0,377.0 1044.5,377.8 1046.0,378.7 1047.5,379.6 1049.0,380.6 1050.5,381.5 1052.0,382.6 1053.5,383.6 1055.0,384.7 1056.5,385.7 1058.0,386.8 1059.5,387.9 1061.0,388.9 1062.5,390.0 1064.0,391.1 1065.5,392.1 1067.0,393.1 1068.5,394.2 1070.0,395.2 1071.5,396.1 1073.0,397.1 1074.5,398.0 1076.0,399.0 1077.5,399.9 1079.0,400.9 1080.5,401.8 1082.0,402.8 1083.5,403.8 1085.0,404.8 1086.5,405.9 1088.0,406.9 1089.5,408.0 1091.0,409.2 1092.5,410.3 1094.0,411.4 1095.5,412.6 1097.0,413.8 1098.5,415.0 1100.0,416.2 1101.5,417.5 1103.0,418.7 1104.5,420.0 1106.0,421.3 1107.5,422.5 1109.0,423.8 1110.5,425.0 1112.0,426.2 1113.5,427.5 1115.0,428.6 1116.5,429.8 1118.0,430.9 1119.5,432.1 1121.0,433.2 1122.5,434.3 1124.0,435.4 1125.5,436.6 1127.0,437.7 1128.5,438.8 1130.0,439.9 1131.5,441.0 1133.0,442.1 1134.5,443.2 1136.0,444.3 1137.5,445.5 1139.0,446.7 1140.5,447.9 1142.0,449.1 1143.5,450.4 1145.0,451.7 1146.5,453.1 1148.0,454.4 1149.5,455.8 1151.0,457.2 1152.5,458.6 1154.0,460.1 1155.5,461.5 1157.0,463.0 1158.5,464.4 1160.0,465.9 1161.5,467.4 1163.0,468.9 1164.5,470.4 1166.0,471.9 1167.5,473.4 1169.0,474.9 1170.5,476.4 1172.0,477.9 1173.5,479.4 1175.0,480.9 1176.5,482.4 1178.0,483.9 1179.5,485.4 1181.0,486.9 1182.5,488.4 1184.0,489.9 1185.5,491.4 1187.0,492.9 1188.5,494.5 1190.0,496.0 1191.5,497.5 1193.0,499.0 1194.5,500.5 1196.0,502.0 1197.5,503.5 1199.0,504.9 1200.5,506.4 1202.0,507.9 1203.5,509.3 1205.0,510.8 1206.5,512.2 1208.0,513.7 1209.5,515.1 1211.0,516.6 1212.5,518.0 1214.0,519.4 1215.5,520.9 1217.0,522.3 1218.5,523.7 1220.0,525.2 1221.5,526.6 1223.0,528.0 1224.5,529.5 1226.0,530.9 1227.5,532.4 1229.0,533.8 1230.5,535.3 1232.0,536.7 1233.5,538.2 1235.0,539.7 1236.5,541.2 1238.0,542.7 1239.5,544.2 1241.0,545.7 1242.5,547.2 1244.0,548.7 1245.5,550.2 1247.0,551.7 1248.5,553.2 1250.0,554.7 1251.5,556.2 1253.0,557.8 1254.5,559.3 1256.0,560.8 1257.5,562.3 1259.0,563.8 1260.5,565.2 1262.0,566.7 1263.5,568.1 1265.0,569.5 1266.5,570.9 1268.0,572.3 1269.5,573.7 1271.0,575.0 1272.5,576.3 1274.0,577.7 1275.5,579.0 1277.0,580.3 1278.5,581.6 1280.0,582.8 1281.5,584.1 1283.0,585.3 1284.5,586.5 1286.0,587.8 1287.5,589.0 1289.0,590.1 1290.5,591.3 1292.0,592.5 1293.5,593.6 1295.0,594.7 1296.5,595.8 1298.0,596.9 1299.5,598.0 1301.0,599.1 1302.5,600.1 1304.0,601.2 1305.5,602.2 1307.0,603.2 1308.5,604.2 1310.0,605.2 1311.5,606.2 1313.0,607.2 1314.5,608.2 1316.0,609.2 1317.5,610.2 1319.0,611.1 1320.5,612.1 1322.0,613.1 1323.5,614.0 1325.0,615.0 1326.5,616.0 1328.0,617.0 1329.5,617.9 1331.0,618.9 1332.5,619.9 1334.0,620.8 1335.5,621.8 1337.0,622.8 1338.5,623.8 1340.0,624.8 1341.5,625.7 1343.0,626.7 1344.5,627.7 1346.0,628.7 1347.5,629.7 1349.0,630.7 1350.5,631.7 1352.0,632.7" stroke="#dc6472"/>
</g>
<g stroke="#333" stroke-width="4.8" fill="none">
<rect x="108.2" y="35.5" width="1246.1" height="1003.5"/>
</g>
<g stroke="#333" stroke-width="4">
<line x1="108.2" y1="1039" x2="108.2" y2="1059"/>
<line x1="264.0" y1="1039" x2="264.0" y2="1049"/>
<line x1="419.7" y1="1039" x2="419.7" y2="1059"/>
<line x1="575.5" y1="1039" x2="575.5" y2="1049"/>
<line x1="731.2" y1="1039" x2="731.2" y2="1059"/>
<line x1="887.0" y1="1039" x2="887.0" y2="1049"/>
<line x1="1042.8" y1="1039" x2="1042.8" y2="1059"/>
<line x1="1198.5" y1="1039" x2="1198.5" y2="1049"/>
<line x1="1354.3" y1="1039" x2="1354.3" y2="1059"/>
</g>
<g font-family="'Liberation Serif', serif" font-weight="bold" font-size="57" fill="#111" text-anchor="middle">
<text x="108.2" y="1117">450</text>
<text x="419.7" y="1117">500</text>
<text x="731.2" y="1117">550</text>
<text x="1042.8" y="1117">600</text>
<text x="1354.3" y="1117">650</text>
<text x="731" y="1180" font-size="57.5">Wavelength(nm)</text>
<text transform="translate(63,537) rotate(-90)" font-size="57.5">Intensity(a.u.)</text>
</g>
<g font-family="'Liberation Serif', serif" font-size="37" fill="#222" stroke-width="4.5">
<line x1="1036.5" y1="56.3" x2="1124.5" y2="56.3" stroke="#686868"/>
<text x="1134" y="68.4">H<tspan dy="9" font-size="23">2</tspan><tspan dy="-9">O</tspan></text>
<line x1="1036.5" y1="112.0" x2="1124.5" y2="112.0" stroke="#dc6472"/>
<text x="1134" y="124.8">Methanol</text>
<line x1="1036.5" y1="159.1" x2="1124.5" y2="159.1" stroke="#4a8cd8"/>
<text x="1134" y="170.4">DMF</text>
<line x1="1036.5" y1="206.0" x2="1124.5" y2="206.0" stroke="#64b990"/>
<text x="1134" y="218.4">DMSO</text>
<line x1="1036.5" y1="252.0" x2="1124.5" y2="252.0" stroke="#7e3ce0"/>
<text x="1134" y="265.9">Ethanol</text>
<line x1="1036.5" y1="304.3" x2="1124.5" y2="304.3" stroke="#e89a48"/>
<text x="1134" y="313.2">Ethyl acetate</text>
<line x1="1036.5" y1="347.5" x2="1124.5" y2="347.5" stroke="#e04ae0"/>
<text x="1134" y="359.5">Hexyl hydride</text>
</g>
</svg>
</body></html>
